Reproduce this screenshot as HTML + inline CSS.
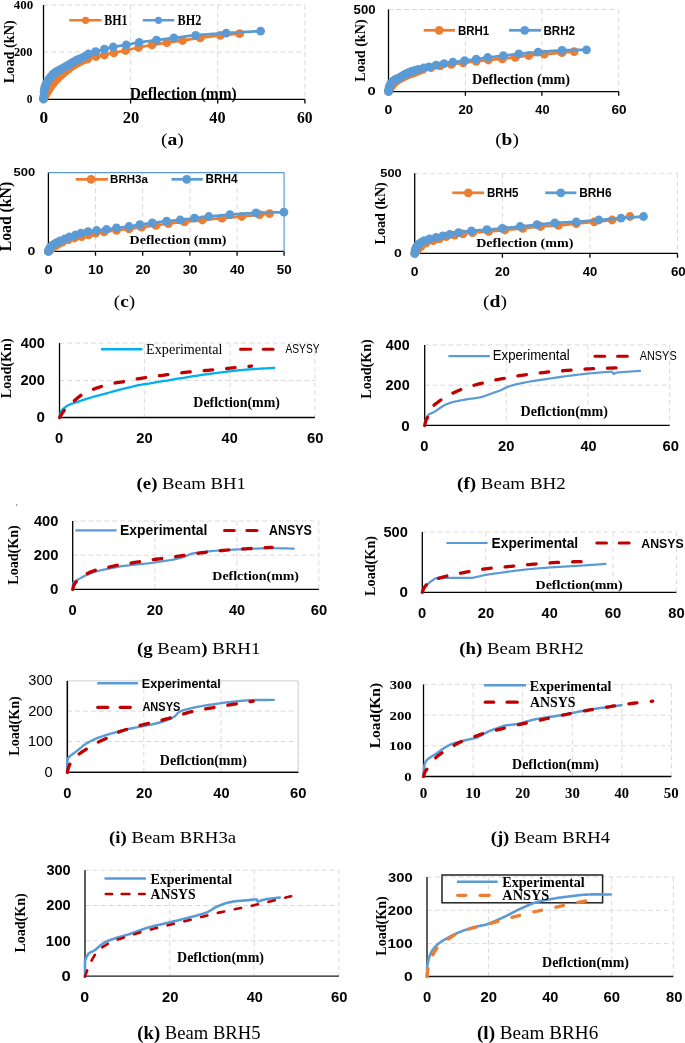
<!DOCTYPE html>
<html><head><meta charset="utf-8"><style>
html,body{margin:0;padding:0;background:#fff;width:685px;height:1043px;overflow:hidden}
svg{display:block;will-change:transform}
text{font-kerning:none}
</style></head><body>
<svg width="685" height="1043" viewBox="0 0 685 1043">
<rect width="685" height="1043" fill="#fff"/>
<line x1="130.60" y1="5.00" x2="130.60" y2="99.30" stroke="#d9d9d9" stroke-width="1" stroke-dasharray="4.7,3.2" stroke-linecap="butt"/>
<line x1="217.70" y1="5.00" x2="217.70" y2="99.30" stroke="#d9d9d9" stroke-width="1" stroke-dasharray="4.7,3.2" stroke-linecap="butt"/>
<line x1="304.90" y1="5.00" x2="304.90" y2="99.30" stroke="#d9d9d9" stroke-width="1" stroke-dasharray="4.7,3.2" stroke-linecap="butt"/>
<line x1="43.50" y1="52.00" x2="304.90" y2="52.00" stroke="#d9d9d9" stroke-width="1" stroke-dasharray="4.7,3.2" stroke-linecap="butt"/>
<line x1="43.50" y1="5.00" x2="304.90" y2="5.00" stroke="#d9d9d9" stroke-width="1" stroke-dasharray="4.7,3.2" stroke-linecap="butt"/>
<line x1="43.50" y1="5.00" x2="43.50" y2="99.30" stroke="#000" stroke-width="1.3" stroke-linecap="butt"/>
<line x1="42.90" y1="99.30" x2="304.90" y2="99.30" stroke="#000" stroke-width="1.3" stroke-linecap="butt"/>
<line x1="130.60" y1="99.30" x2="130.60" y2="103.60" stroke="#000" stroke-width="1.3" stroke-linecap="butt"/>
<line x1="217.70" y1="99.30" x2="217.70" y2="103.60" stroke="#000" stroke-width="1.3" stroke-linecap="butt"/>
<line x1="304.90" y1="99.30" x2="304.90" y2="103.60" stroke="#000" stroke-width="1.3" stroke-linecap="butt"/>
<polyline points="43.50,99.00 43.60,98.81 43.71,98.56 43.85,98.28 44.00,97.96 44.17,97.62 44.34,97.25 44.53,96.87 44.72,96.48 44.92,96.09 45.11,95.71 45.31,95.35 45.50,95.00 45.69,94.67 45.89,94.33 46.09,94.00 46.30,93.67 46.51,93.33 46.72,93.00 46.93,92.67 47.15,92.33 47.36,92.00 47.58,91.67 47.79,91.33 48.00,91.00 48.21,90.67 48.41,90.33 48.61,90.00 48.81,89.67 49.02,89.33 49.22,89.00 49.42,88.67 49.63,88.33 49.84,88.00 50.05,87.67 50.27,87.33 50.50,87.00 50.73,86.67 50.96,86.34 51.19,86.01 51.43,85.69 51.66,85.36 51.91,85.03 52.15,84.70 52.41,84.37 52.67,84.04 52.94,83.70 53.21,83.35 53.50,83.00 53.80,82.64 54.10,82.28 54.42,81.90 54.74,81.53 55.07,81.15 55.41,80.76 55.75,80.38 56.09,80.00 56.44,79.62 56.79,79.24 57.15,78.87 57.50,78.50 57.86,78.14 58.22,77.78 58.59,77.42 58.97,77.06 59.35,76.70 59.73,76.35 60.11,76.00 60.50,75.65 60.88,75.31 61.26,74.97 61.63,74.63 62.00,74.30 62.35,73.98 62.68,73.68 62.99,73.40 63.29,73.12 63.58,72.84 63.89,72.57 64.21,72.29 64.55,71.99 64.92,71.68 65.33,71.35 65.79,70.99 66.30,70.60 66.87,70.17 67.49,69.70 68.16,69.20 68.87,68.68 69.61,68.14 70.37,67.59 71.15,67.04 71.93,66.50 72.71,65.96 73.49,65.45 74.26,64.96 75.00,64.50 75.75,64.06 76.52,63.63 77.31,63.20 78.11,62.79 78.91,62.38 79.70,61.99 80.48,61.61 81.23,61.26 81.94,60.93 82.62,60.62 83.24,60.35 83.80,60.10 84.28,59.90 84.68,59.74 85.02,59.63 85.30,59.54 85.55,59.48 85.78,59.43 86.01,59.39 86.26,59.35 86.53,59.30 86.85,59.23 87.24,59.13 87.70,59.00 88.24,58.84 88.83,58.65 89.46,58.45 90.14,58.23 90.84,58.01 91.57,57.77 92.31,57.54 93.06,57.31 93.81,57.09 94.56,56.87 95.29,56.68 96.00,56.50 96.69,56.34 97.38,56.20 98.07,56.07 98.75,55.95 99.44,55.84 100.12,55.73 100.82,55.62 101.51,55.51 102.22,55.40 102.94,55.28 103.66,55.15 104.40,55.00 105.15,54.84 105.89,54.67 106.65,54.50 107.40,54.32 108.17,54.14 108.94,53.95 109.73,53.76 110.53,53.57 111.34,53.37 112.18,53.18 113.03,52.99 113.90,52.80 114.79,52.61 115.71,52.43 116.64,52.25 117.59,52.07 118.56,51.88 119.54,51.70 120.53,51.51 121.53,51.32 122.54,51.13 123.56,50.92 124.58,50.72 125.60,50.50 126.63,50.27 127.67,50.03 128.73,49.79 129.79,49.53 130.86,49.27 131.94,49.01 133.02,48.75 134.11,48.49 135.20,48.23 136.30,47.98 137.40,47.73 138.50,47.50 139.60,47.27 140.70,47.05 141.80,46.84 142.91,46.62 144.02,46.41 145.13,46.21 146.25,46.00 147.38,45.80 148.52,45.60 149.67,45.40 150.83,45.20 152.00,45.00 153.18,44.80 154.38,44.60 155.59,44.41 156.80,44.21 158.03,44.02 159.26,43.83 160.50,43.64 161.75,43.45 163.01,43.26 164.27,43.08 165.53,42.89 166.80,42.70 168.07,42.51 169.34,42.33 170.61,42.15 171.89,41.97 173.18,41.80 174.47,41.62 175.77,41.44 177.09,41.26 178.41,41.08 179.76,40.89 181.12,40.70 182.50,40.50 183.90,40.30 185.31,40.09 186.73,39.88 188.16,39.66 189.61,39.45 191.07,39.22 192.55,39.00 194.04,38.78 195.55,38.56 197.08,38.34 198.63,38.12 200.20,37.90 201.80,37.68 203.43,37.46 205.10,37.23 206.78,37.00 208.49,36.77 210.20,36.54 211.92,36.31 213.64,36.09 215.35,35.88 217.06,35.68 218.74,35.48 220.40,35.30 222.10,35.13 223.89,34.96 225.74,34.79 227.61,34.63 229.48,34.48 231.31,34.34 233.07,34.20 234.73,34.08 236.25,33.96 237.61,33.86 238.77,33.77 239.70,33.70" fill="none" stroke="#ED7D31" stroke-width="2.75" stroke-linecap="round" stroke-linejoin="round"/>
<circle cx="43.50" cy="99.00" r="4.4" fill="#ED7D31"/>
<circle cx="43.67" cy="98.65" r="4.4" fill="#ED7D31"/>
<circle cx="44.09" cy="97.78" r="4.4" fill="#ED7D31"/>
<circle cx="44.72" cy="96.48" r="4.4" fill="#ED7D31"/>
<circle cx="45.55" cy="94.90" r="4.4" fill="#ED7D31"/>
<circle cx="46.57" cy="93.23" r="4.4" fill="#ED7D31"/>
<circle cx="47.76" cy="91.38" r="4.4" fill="#ED7D31"/>
<circle cx="49.13" cy="89.15" r="4.4" fill="#ED7D31"/>
<circle cx="50.66" cy="86.78" r="4.4" fill="#ED7D31"/>
<circle cx="52.35" cy="84.45" r="4.4" fill="#ED7D31"/>
<circle cx="54.19" cy="82.17" r="4.4" fill="#ED7D31"/>
<circle cx="56.19" cy="79.89" r="4.4" fill="#ED7D31"/>
<circle cx="58.35" cy="77.66" r="4.4" fill="#ED7D31"/>
<circle cx="60.65" cy="75.52" r="4.4" fill="#ED7D31"/>
<circle cx="63.09" cy="73.30" r="4.4" fill="#ED7D31"/>
<circle cx="65.68" cy="71.07" r="4.4" fill="#ED7D31"/>
<circle cx="68.42" cy="69.02" r="4.4" fill="#ED7D31"/>
<circle cx="71.29" cy="66.94" r="4.4" fill="#ED7D31"/>
<circle cx="74.30" cy="64.93" r="4.4" fill="#ED7D31"/>
<circle cx="77.45" cy="63.13" r="4.4" fill="#ED7D31"/>
<circle cx="80.73" cy="61.49" r="4.4" fill="#ED7D31"/>
<circle cx="84.15" cy="59.95" r="4.4" fill="#ED7D31"/>
<circle cx="87.70" cy="59.00" r="4.4" fill="#ED7D31"/>
<circle cx="96.00" cy="56.50" r="4.4" fill="#ED7D31"/>
<circle cx="104.40" cy="55.00" r="4.4" fill="#ED7D31"/>
<circle cx="113.90" cy="52.80" r="4.4" fill="#ED7D31"/>
<circle cx="125.60" cy="50.50" r="4.4" fill="#ED7D31"/>
<circle cx="138.50" cy="47.50" r="4.4" fill="#ED7D31"/>
<circle cx="152.00" cy="45.00" r="4.4" fill="#ED7D31"/>
<circle cx="166.80" cy="42.70" r="4.4" fill="#ED7D31"/>
<circle cx="182.50" cy="40.50" r="4.4" fill="#ED7D31"/>
<circle cx="200.20" cy="37.90" r="4.4" fill="#ED7D31"/>
<circle cx="220.40" cy="35.30" r="4.4" fill="#ED7D31"/>
<circle cx="239.70" cy="33.70" r="4.4" fill="#ED7D31"/>
<polyline points="43.50,99.00 43.54,98.50 43.58,97.87 43.63,97.11 43.69,96.26 43.75,95.34 43.82,94.38 43.89,93.39 43.98,92.41 44.07,91.45 44.17,90.55 44.28,89.73 44.40,89.00 44.53,88.35 44.68,87.74 44.84,87.16 45.00,86.61 45.18,86.09 45.36,85.60 45.55,85.13 45.74,84.67 45.93,84.24 46.12,83.81 46.31,83.40 46.50,83.00 46.68,82.62 46.85,82.28 47.01,81.97 47.18,81.68 47.34,81.41 47.51,81.15 47.69,80.89 47.88,80.63 48.08,80.36 48.30,80.06 48.54,79.75 48.80,79.40 49.09,79.02 49.40,78.60 49.73,78.16 50.08,77.71 50.44,77.24 50.82,76.77 51.20,76.30 51.59,75.84 51.97,75.39 52.35,74.96 52.73,74.56 53.10,74.20 53.45,73.87 53.78,73.58 54.09,73.32 54.40,73.07 54.70,72.85 55.02,72.62 55.35,72.41 55.70,72.18 56.09,71.95 56.51,71.69 56.98,71.41 57.50,71.10 58.08,70.76 58.71,70.40 59.39,70.03 60.11,69.64 60.86,69.25 61.63,68.84 62.42,68.42 63.21,68.00 64.00,67.57 64.79,67.15 65.56,66.72 66.30,66.30 67.03,65.87 67.75,65.43 68.48,64.98 69.20,64.52 69.93,64.06 70.65,63.59 71.37,63.13 72.10,62.68 72.82,62.24 73.55,61.81 74.27,61.39 75.00,61.00 75.74,60.62 76.51,60.26 77.29,59.91 78.07,59.57 78.86,59.25 79.64,58.92 80.41,58.61 81.16,58.30 81.88,58.00 82.56,57.70 83.21,57.40 83.80,57.10 84.33,56.80 84.81,56.50 85.23,56.21 85.61,55.91 85.97,55.63 86.31,55.34 86.65,55.07 86.99,54.80 87.34,54.53 87.72,54.28 88.14,54.03 88.60,53.80 89.10,53.58 89.62,53.37 90.15,53.18 90.70,52.99 91.27,52.82 91.85,52.64 92.44,52.48 93.05,52.31 93.67,52.14 94.30,51.97 94.95,51.79 95.60,51.60 96.27,51.41 96.96,51.21 97.67,51.01 98.40,50.81 99.14,50.60 99.89,50.40 100.64,50.20 101.40,49.99 102.16,49.79 102.91,49.59 103.66,49.39 104.40,49.20 105.12,49.01 105.82,48.82 106.50,48.64 107.17,48.45 107.85,48.27 108.53,48.09 109.23,47.91 109.95,47.73 110.70,47.55 111.48,47.36 112.32,47.18 113.20,47.00 114.14,46.82 115.14,46.64 116.18,46.45 117.26,46.27 118.36,46.09 119.49,45.91 120.64,45.73 121.79,45.55 122.94,45.36 124.08,45.18 125.20,44.99 126.30,44.80 127.37,44.61 128.41,44.41 129.44,44.21 130.45,44.01 131.47,43.81 132.49,43.61 133.52,43.40 134.58,43.20 135.67,43.00 136.80,42.80 137.97,42.60 139.20,42.40 140.49,42.20 141.83,42.01 143.21,41.82 144.64,41.62 146.09,41.43 147.57,41.24 149.06,41.05 150.56,40.86 152.06,40.67 153.56,40.48 155.04,40.29 156.50,40.10 157.93,39.91 159.34,39.73 160.74,39.55 162.13,39.37 163.52,39.20 164.92,39.02 166.33,38.84 167.77,38.66 169.24,38.48 170.74,38.29 172.30,38.10 173.90,37.90 175.53,37.70 177.18,37.49 178.84,37.27 180.52,37.05 182.23,36.82 183.98,36.60 185.78,36.38 187.63,36.15 189.54,35.93 191.51,35.71 193.56,35.50 195.70,35.30 197.92,35.10 200.23,34.91 202.62,34.72 205.08,34.53 207.59,34.34 210.16,34.16 212.77,33.98 215.42,33.80 218.10,33.63 220.79,33.45 223.49,33.28 226.20,33.10 229.04,32.92 232.11,32.73 235.33,32.54 238.65,32.34 242.00,32.15 245.31,31.96 248.51,31.78 251.54,31.61 254.33,31.45 256.81,31.32 258.93,31.20 260.60,31.10" fill="none" stroke="#5B9BD5" stroke-width="2.75" stroke-linecap="round" stroke-linejoin="round"/>
<circle cx="43.50" cy="99.00" r="4.4" fill="#5B9BD5"/>
<circle cx="43.65" cy="96.89" r="4.4" fill="#5B9BD5"/>
<circle cx="44.01" cy="92.02" r="4.4" fill="#5B9BD5"/>
<circle cx="44.57" cy="88.20" r="4.4" fill="#5B9BD5"/>
<circle cx="45.29" cy="85.79" r="4.4" fill="#5B9BD5"/>
<circle cx="46.18" cy="83.70" r="4.4" fill="#5B9BD5"/>
<circle cx="47.22" cy="81.61" r="4.4" fill="#5B9BD5"/>
<circle cx="48.41" cy="79.92" r="4.4" fill="#5B9BD5"/>
<circle cx="49.74" cy="78.15" r="4.4" fill="#5B9BD5"/>
<circle cx="51.22" cy="76.28" r="4.4" fill="#5B9BD5"/>
<circle cx="52.83" cy="74.47" r="4.4" fill="#5B9BD5"/>
<circle cx="54.57" cy="72.94" r="4.4" fill="#5B9BD5"/>
<circle cx="56.45" cy="71.73" r="4.4" fill="#5B9BD5"/>
<circle cx="58.46" cy="70.55" r="4.4" fill="#5B9BD5"/>
<circle cx="60.59" cy="69.39" r="4.4" fill="#5B9BD5"/>
<circle cx="62.85" cy="68.19" r="4.4" fill="#5B9BD5"/>
<circle cx="65.24" cy="66.90" r="4.4" fill="#5B9BD5"/>
<circle cx="67.74" cy="65.44" r="4.4" fill="#5B9BD5"/>
<circle cx="70.37" cy="63.77" r="4.4" fill="#5B9BD5"/>
<circle cx="73.12" cy="62.06" r="4.4" fill="#5B9BD5"/>
<circle cx="75.98" cy="60.51" r="4.4" fill="#5B9BD5"/>
<circle cx="78.96" cy="59.20" r="4.4" fill="#5B9BD5"/>
<circle cx="82.06" cy="57.92" r="4.4" fill="#5B9BD5"/>
<circle cx="85.27" cy="56.17" r="4.4" fill="#5B9BD5"/>
<circle cx="88.60" cy="53.80" r="4.4" fill="#5B9BD5"/>
<circle cx="95.60" cy="51.60" r="4.4" fill="#5B9BD5"/>
<circle cx="104.40" cy="49.20" r="4.4" fill="#5B9BD5"/>
<circle cx="113.20" cy="47.00" r="4.4" fill="#5B9BD5"/>
<circle cx="126.30" cy="44.80" r="4.4" fill="#5B9BD5"/>
<circle cx="139.20" cy="42.40" r="4.4" fill="#5B9BD5"/>
<circle cx="156.50" cy="40.10" r="4.4" fill="#5B9BD5"/>
<circle cx="173.90" cy="37.90" r="4.4" fill="#5B9BD5"/>
<circle cx="195.70" cy="35.30" r="4.4" fill="#5B9BD5"/>
<circle cx="226.20" cy="33.10" r="4.4" fill="#5B9BD5"/>
<circle cx="260.60" cy="31.10" r="4.4" fill="#5B9BD5"/>
<line x1="69.20" y1="20.30" x2="101.60" y2="20.30" stroke="#ED7D31" stroke-width="2.5" stroke-linecap="butt"/>
<circle cx="85.60" cy="20.30" r="3.6" fill="#ED7D31"/>
<line x1="142.80" y1="20.30" x2="174.30" y2="20.30" stroke="#5B9BD5" stroke-width="2.5" stroke-linecap="butt"/>
<circle cx="158.50" cy="20.30" r="3.6" fill="#5B9BD5"/>
<text x="104.20" y="25.06" font-family="Liberation Serif" font-size="13.87" font-weight="bold" fill="#000" textLength="23.22" lengthAdjust="spacingAndGlyphs">BH1</text>
<text x="177.60" y="25.06" font-family="Liberation Serif" font-size="13.83" font-weight="bold" fill="#000" textLength="23.73" lengthAdjust="spacingAndGlyphs">BH2</text>
<text x="13.82" y="8.68" font-family="Liberation Serif" font-size="12.74" font-weight="bold" fill="#000" textLength="19.47" lengthAdjust="spacingAndGlyphs">400</text>
<text x="13.88" y="56.38" font-family="Liberation Serif" font-size="12.74" font-weight="bold" fill="#000" textLength="18.70" lengthAdjust="spacingAndGlyphs">200</text>
<text x="26.87" y="102.88" font-family="Liberation Serif" font-size="11.86" font-weight="bold" fill="#000" textLength="5.66" lengthAdjust="spacingAndGlyphs">0</text>
<text x="39.54" y="122.75" font-family="Liberation Serif" font-size="15.71" font-weight="bold" fill="#000" textLength="8.61" lengthAdjust="spacingAndGlyphs">0</text>
<text x="122.71" y="122.75" font-family="Liberation Serif" font-size="15.71" font-weight="bold" fill="#000" textLength="16.52" lengthAdjust="spacingAndGlyphs">20</text>
<text x="209.38" y="122.75" font-family="Liberation Serif" font-size="15.71" font-weight="bold" fill="#000" textLength="16.24" lengthAdjust="spacingAndGlyphs">40</text>
<text x="296.97" y="122.75" font-family="Liberation Serif" font-size="15.71" font-weight="bold" fill="#000" textLength="15.63" lengthAdjust="spacingAndGlyphs">60</text>
<text transform="translate(13.87,83.14) rotate(-90)" x="0" y="0" font-family="Liberation Serif" font-size="13.79" font-weight="bold" fill="#000" textLength="62.77" lengthAdjust="spacingAndGlyphs">Load (kN)</text>
<text x="129.63" y="98.80" font-family="Liberation Serif" font-size="16.19" font-weight="bold" fill="#000" textLength="107.15" lengthAdjust="spacingAndGlyphs">Deflection (mm)</text>
<text x="161.04" y="145.14" font-family="Liberation Serif" font-size="17.65" font-weight="normal" fill="#000" textLength="22.82" lengthAdjust="spacingAndGlyphs"><tspan font-weight="normal">(</tspan><tspan font-weight="bold">a</tspan><tspan font-weight="normal">)</tspan></text>
<line x1="465.40" y1="9.50" x2="465.40" y2="91.60" stroke="#d9d9d9" stroke-width="1" stroke-dasharray="4.7,3.2" stroke-linecap="butt"/>
<line x1="541.90" y1="9.50" x2="541.90" y2="91.60" stroke="#d9d9d9" stroke-width="1" stroke-dasharray="4.7,3.2" stroke-linecap="butt"/>
<line x1="618.70" y1="9.50" x2="618.70" y2="91.60" stroke="#d9d9d9" stroke-width="1" stroke-dasharray="4.7,3.2" stroke-linecap="butt"/>
<line x1="388.50" y1="9.50" x2="618.70" y2="9.50" stroke="#d9d9d9" stroke-width="1" stroke-dasharray="4.7,3.2" stroke-linecap="butt"/>
<line x1="388.50" y1="9.50" x2="388.50" y2="91.60" stroke="#000" stroke-width="1.3" stroke-linecap="butt"/>
<line x1="387.90" y1="91.60" x2="618.70" y2="91.60" stroke="#000" stroke-width="1.3" stroke-linecap="butt"/>
<line x1="465.40" y1="91.60" x2="465.40" y2="95.80" stroke="#000" stroke-width="1.3" stroke-linecap="butt"/>
<line x1="541.90" y1="91.60" x2="541.90" y2="95.80" stroke="#000" stroke-width="1.3" stroke-linecap="butt"/>
<line x1="618.70" y1="91.60" x2="618.70" y2="95.80" stroke="#000" stroke-width="1.3" stroke-linecap="butt"/>
<polyline points="388.50,91.50 388.57,91.33 388.65,91.12 388.75,90.86 388.85,90.58 388.97,90.27 389.09,89.95 389.23,89.61 389.37,89.27 389.52,88.94 389.67,88.61 389.84,88.29 390.00,88.00 390.17,87.72 390.36,87.44 390.55,87.17 390.76,86.90 390.97,86.63 391.19,86.36 391.41,86.09 391.63,85.83 391.85,85.56 392.07,85.31 392.29,85.05 392.50,84.80 392.70,84.55 392.89,84.31 393.07,84.08 393.24,83.85 393.42,83.63 393.59,83.40 393.78,83.17 393.98,82.95 394.20,82.72 394.44,82.49 394.70,82.25 395.00,82.00 395.32,81.75 395.67,81.49 396.04,81.23 396.43,80.96 396.84,80.70 397.26,80.43 397.70,80.15 398.14,79.88 398.60,79.61 399.06,79.34 399.53,79.07 400.00,78.80 400.47,78.53 400.95,78.27 401.43,78.00 401.91,77.74 402.41,77.47 402.92,77.21 403.44,76.94 403.97,76.67 404.53,76.41 405.10,76.14 405.69,75.87 406.30,75.60 406.94,75.33 407.62,75.05 408.32,74.77 409.05,74.50 409.79,74.22 410.54,73.94 411.30,73.66 412.06,73.38 412.82,73.11 413.56,72.83 414.29,72.56 415.00,72.30 415.69,72.04 416.37,71.77 417.05,71.50 417.72,71.23 418.38,70.96 419.04,70.70 419.70,70.44 420.36,70.19 421.02,69.95 421.67,69.72 422.34,69.50 423.00,69.30 423.66,69.11 424.32,68.94 424.97,68.79 425.62,68.64 426.27,68.50 426.93,68.37 427.58,68.25 428.24,68.13 428.92,68.00 429.60,67.87 430.29,67.74 431.00,67.60 431.72,67.45 432.44,67.30 433.17,67.15 433.90,66.99 434.65,66.84 435.40,66.68 436.16,66.53 436.94,66.37 437.73,66.22 438.54,66.08 439.36,65.94 440.20,65.80 441.06,65.67 441.95,65.55 442.85,65.43 443.77,65.31 444.70,65.20 445.64,65.09 446.60,64.98 447.56,64.87 448.52,64.75 449.48,64.64 450.44,64.52 451.40,64.40 452.35,64.27 453.30,64.14 454.26,64.01 455.21,63.88 456.17,63.74 457.13,63.61 458.10,63.47 459.08,63.33 460.06,63.20 461.06,63.06 462.07,62.93 463.10,62.80 464.15,62.67 465.21,62.54 466.30,62.41 467.40,62.29 468.50,62.16 469.62,62.03 470.73,61.91 471.85,61.78 472.96,61.66 474.05,61.54 475.14,61.42 476.20,61.30 477.24,61.18 478.26,61.07 479.27,60.96 480.27,60.85 481.26,60.74 482.24,60.63 483.23,60.52 484.23,60.42 485.24,60.31 486.27,60.21 487.32,60.10 488.40,60.00 489.51,59.90 490.64,59.80 491.80,59.70 492.97,59.60 494.16,59.51 495.36,59.41 496.55,59.32 497.75,59.22 498.94,59.12 500.11,59.02 501.27,58.91 502.40,58.80 503.51,58.69 504.61,58.57 505.69,58.45 506.76,58.33 507.83,58.21 508.89,58.09 509.95,57.96 511.00,57.83 512.07,57.70 513.13,57.57 514.21,57.44 515.30,57.30 516.39,57.16 517.48,57.01 518.56,56.86 519.64,56.71 520.73,56.55 521.82,56.39 522.93,56.24 524.04,56.08 525.18,55.93 526.33,55.78 527.50,55.64 528.70,55.50 529.92,55.37 531.16,55.24 532.42,55.12 533.69,55.00 534.98,54.89 536.29,54.78 537.61,54.66 538.94,54.55 540.29,54.44 541.65,54.33 543.02,54.22 544.40,54.10 545.82,53.98 547.28,53.86 548.79,53.75 550.31,53.63 551.86,53.51 553.40,53.39 554.93,53.27 556.44,53.15 557.91,53.04 559.34,52.92 560.71,52.81 562.00,52.70 563.26,52.59 564.52,52.47 565.78,52.36 567.01,52.24 568.20,52.13 569.35,52.01 570.44,51.90 571.45,51.80 572.37,51.71 573.20,51.63 573.91,51.56 574.50,51.50" fill="none" stroke="#ED7D31" stroke-width="2.75" stroke-linecap="round" stroke-linejoin="round"/>
<circle cx="388.50" cy="91.50" r="4.4" fill="#ED7D31"/>
<circle cx="388.66" cy="91.10" r="4.4" fill="#ED7D31"/>
<circle cx="389.05" cy="90.07" r="4.4" fill="#ED7D31"/>
<circle cx="389.63" cy="88.69" r="4.4" fill="#ED7D31"/>
<circle cx="390.40" cy="87.38" r="4.4" fill="#ED7D31"/>
<circle cx="391.35" cy="86.17" r="4.4" fill="#ED7D31"/>
<circle cx="392.45" cy="84.86" r="4.4" fill="#ED7D31"/>
<circle cx="393.71" cy="83.26" r="4.4" fill="#ED7D31"/>
<circle cx="395.13" cy="81.90" r="4.4" fill="#ED7D31"/>
<circle cx="396.70" cy="80.79" r="4.4" fill="#ED7D31"/>
<circle cx="398.41" cy="79.72" r="4.4" fill="#ED7D31"/>
<circle cx="400.26" cy="78.65" r="4.4" fill="#ED7D31"/>
<circle cx="402.26" cy="77.55" r="4.4" fill="#ED7D31"/>
<circle cx="404.39" cy="76.47" r="4.4" fill="#ED7D31"/>
<circle cx="406.65" cy="75.45" r="4.4" fill="#ED7D31"/>
<circle cx="409.06" cy="74.49" r="4.4" fill="#ED7D31"/>
<circle cx="411.59" cy="73.55" r="4.4" fill="#ED7D31"/>
<circle cx="414.25" cy="72.58" r="4.4" fill="#ED7D31"/>
<circle cx="417.04" cy="71.50" r="4.4" fill="#ED7D31"/>
<circle cx="419.96" cy="70.35" r="4.4" fill="#ED7D31"/>
<circle cx="423.00" cy="69.30" r="4.4" fill="#ED7D31"/>
<circle cx="431.00" cy="67.60" r="4.4" fill="#ED7D31"/>
<circle cx="440.20" cy="65.80" r="4.4" fill="#ED7D31"/>
<circle cx="451.40" cy="64.40" r="4.4" fill="#ED7D31"/>
<circle cx="463.10" cy="62.80" r="4.4" fill="#ED7D31"/>
<circle cx="476.20" cy="61.30" r="4.4" fill="#ED7D31"/>
<circle cx="488.40" cy="60.00" r="4.4" fill="#ED7D31"/>
<circle cx="502.40" cy="58.80" r="4.4" fill="#ED7D31"/>
<circle cx="515.30" cy="57.30" r="4.4" fill="#ED7D31"/>
<circle cx="528.70" cy="55.50" r="4.4" fill="#ED7D31"/>
<circle cx="544.40" cy="54.10" r="4.4" fill="#ED7D31"/>
<circle cx="562.00" cy="52.70" r="4.4" fill="#ED7D31"/>
<circle cx="574.20" cy="51.53" r="4.4" fill="#ED7D31"/>
<polyline points="388.50,91.50 388.53,91.29 388.57,91.02 388.61,90.70 388.66,90.34 388.71,89.96 388.76,89.55 388.82,89.13 388.89,88.71 388.96,88.30 389.03,87.90 389.11,87.53 389.20,87.20 389.29,86.89 389.38,86.59 389.48,86.31 389.59,86.03 389.70,85.75 389.81,85.49 389.93,85.23 390.06,84.97 390.18,84.73 390.32,84.48 390.46,84.24 390.60,84.00 390.75,83.77 390.90,83.54 391.06,83.31 391.22,83.10 391.39,82.88 391.56,82.67 391.74,82.47 391.92,82.27 392.11,82.07 392.30,81.88 392.50,81.69 392.70,81.50 392.90,81.32 393.11,81.14 393.32,80.96 393.53,80.79 393.75,80.63 393.97,80.46 394.21,80.30 394.44,80.14 394.69,79.98 394.95,79.82 395.22,79.66 395.50,79.50 395.79,79.35 396.07,79.20 396.36,79.07 396.65,78.94 396.95,78.82 397.27,78.69 397.60,78.55 397.95,78.40 398.32,78.23 398.72,78.05 399.14,77.84 399.60,77.60 400.10,77.33 400.63,77.02 401.20,76.68 401.80,76.32 402.41,75.94 403.05,75.56 403.70,75.17 404.35,74.78 405.00,74.41 405.65,74.05 406.28,73.71 406.90,73.40 407.52,73.11 408.15,72.83 408.79,72.56 409.44,72.30 410.09,72.05 410.73,71.81 411.36,71.58 411.98,71.36 412.58,71.15 413.15,70.96 413.69,70.77 414.20,70.60 414.67,70.44 415.09,70.31 415.49,70.19 415.86,70.09 416.20,70.00 416.54,69.91 416.86,69.83 417.19,69.76 417.52,69.68 417.86,69.59 418.22,69.50 418.60,69.40 419.00,69.29 419.41,69.18 419.83,69.06 420.25,68.94 420.68,68.82 421.11,68.70 421.54,68.58 421.97,68.46 422.41,68.34 422.84,68.22 423.27,68.11 423.70,68.00 424.12,67.89 424.52,67.79 424.92,67.70 425.32,67.60 425.71,67.51 426.11,67.42 426.52,67.33 426.94,67.23 427.37,67.13 427.82,67.03 428.30,66.92 428.80,66.80 429.33,66.68 429.88,66.54 430.45,66.41 431.04,66.26 431.65,66.12 432.27,65.97 432.90,65.82 433.53,65.67 434.17,65.52 434.82,65.38 435.46,65.24 436.10,65.10 436.74,64.97 437.38,64.84 438.03,64.71 438.69,64.58 439.34,64.46 440.01,64.33 440.67,64.21 441.35,64.09 442.03,63.96 442.71,63.84 443.40,63.72 444.10,63.60 444.80,63.48 445.49,63.36 446.18,63.25 446.87,63.13 447.56,63.02 448.27,62.91 448.99,62.79 449.72,62.68 450.48,62.56 451.26,62.44 452.06,62.32 452.90,62.20 453.77,62.07 454.68,61.94 455.62,61.81 456.59,61.67 457.57,61.54 458.57,61.40 459.59,61.26 460.60,61.13 461.61,60.99 462.62,60.86 463.62,60.73 464.60,60.60 465.57,60.48 466.54,60.36 467.51,60.24 468.48,60.13 469.45,60.02 470.41,59.91 471.38,59.79 472.34,59.68 473.31,59.57 474.27,59.45 475.24,59.33 476.20,59.20 477.15,59.07 478.07,58.94 478.98,58.80 479.89,58.66 480.79,58.52 481.69,58.38 482.62,58.23 483.56,58.09 484.53,57.94 485.54,57.79 486.59,57.65 487.70,57.50 488.86,57.35 490.08,57.21 491.34,57.06 492.63,56.91 493.96,56.76 495.31,56.61 496.67,56.46 498.03,56.30 499.40,56.15 500.75,56.00 502.09,55.85 503.40,55.70 504.68,55.55 505.94,55.40 507.18,55.25 508.41,55.10 509.64,54.95 510.87,54.80 512.12,54.65 513.39,54.50 514.68,54.35 516.01,54.20 517.38,54.05 518.80,53.90 520.26,53.75 521.74,53.60 523.24,53.45 524.77,53.30 526.33,53.15 527.92,53.00 529.53,52.85 531.18,52.70 532.86,52.55 534.57,52.40 536.32,52.25 538.10,52.10 539.93,51.95 541.81,51.78 543.74,51.62 545.70,51.45 547.70,51.28 549.73,51.12 551.77,50.96 553.82,50.80 555.88,50.66 557.93,50.52 559.97,50.40 562.00,50.30 564.10,50.21 566.33,50.14 568.66,50.07 571.03,50.02 573.41,49.97 575.74,49.94 578.00,49.91 580.13,49.88 582.08,49.86 583.83,49.84 585.31,49.82 586.50,49.80" fill="none" stroke="#5B9BD5" stroke-width="2.75" stroke-linecap="round" stroke-linejoin="round"/>
<circle cx="388.50" cy="91.50" r="4.4" fill="#5B9BD5"/>
<circle cx="388.64" cy="90.49" r="4.4" fill="#5B9BD5"/>
<circle cx="388.98" cy="88.21" r="4.4" fill="#5B9BD5"/>
<circle cx="389.49" cy="86.29" r="4.4" fill="#5B9BD5"/>
<circle cx="390.16" cy="84.77" r="4.4" fill="#5B9BD5"/>
<circle cx="390.98" cy="83.42" r="4.4" fill="#5B9BD5"/>
<circle cx="391.95" cy="82.24" r="4.4" fill="#5B9BD5"/>
<circle cx="393.05" cy="81.19" r="4.4" fill="#5B9BD5"/>
<circle cx="394.28" cy="80.25" r="4.4" fill="#5B9BD5"/>
<circle cx="395.65" cy="79.42" r="4.4" fill="#5B9BD5"/>
<circle cx="397.14" cy="78.74" r="4.4" fill="#5B9BD5"/>
<circle cx="398.76" cy="78.03" r="4.4" fill="#5B9BD5"/>
<circle cx="400.50" cy="77.09" r="4.4" fill="#5B9BD5"/>
<circle cx="402.36" cy="75.97" r="4.4" fill="#5B9BD5"/>
<circle cx="404.34" cy="74.79" r="4.4" fill="#5B9BD5"/>
<circle cx="406.43" cy="73.63" r="4.4" fill="#5B9BD5"/>
<circle cx="408.64" cy="72.63" r="4.4" fill="#5B9BD5"/>
<circle cx="410.97" cy="71.73" r="4.4" fill="#5B9BD5"/>
<circle cx="413.40" cy="70.87" r="4.4" fill="#5B9BD5"/>
<circle cx="415.95" cy="70.07" r="4.4" fill="#5B9BD5"/>
<circle cx="418.60" cy="69.40" r="4.4" fill="#5B9BD5"/>
<circle cx="423.70" cy="68.00" r="4.4" fill="#5B9BD5"/>
<circle cx="428.80" cy="66.80" r="4.4" fill="#5B9BD5"/>
<circle cx="436.10" cy="65.10" r="4.4" fill="#5B9BD5"/>
<circle cx="444.10" cy="63.60" r="4.4" fill="#5B9BD5"/>
<circle cx="452.90" cy="62.20" r="4.4" fill="#5B9BD5"/>
<circle cx="464.60" cy="60.60" r="4.4" fill="#5B9BD5"/>
<circle cx="476.20" cy="59.20" r="4.4" fill="#5B9BD5"/>
<circle cx="487.70" cy="57.50" r="4.4" fill="#5B9BD5"/>
<circle cx="503.40" cy="55.70" r="4.4" fill="#5B9BD5"/>
<circle cx="518.80" cy="53.90" r="4.4" fill="#5B9BD5"/>
<circle cx="538.10" cy="52.10" r="4.4" fill="#5B9BD5"/>
<circle cx="562.00" cy="50.30" r="4.4" fill="#5B9BD5"/>
<circle cx="586.50" cy="49.80" r="4.4" fill="#5B9BD5"/>
<line x1="423.70" y1="30.30" x2="455.00" y2="30.30" stroke="#ED7D31" stroke-width="2.75" stroke-linecap="butt"/>
<circle cx="439.20" cy="30.30" r="4.4" fill="#ED7D31"/>
<line x1="509.00" y1="30.30" x2="541.00" y2="30.30" stroke="#5B9BD5" stroke-width="2.75" stroke-linecap="butt"/>
<circle cx="524.70" cy="30.30" r="4.4" fill="#5B9BD5"/>
<text x="458.03" y="34.60" font-family="Liberation Sans" font-size="13.23" font-weight="bold" fill="#000" textLength="31.18" lengthAdjust="spacingAndGlyphs">BRH1</text>
<text x="543.42" y="34.60" font-family="Liberation Sans" font-size="13.03" font-weight="bold" fill="#000" textLength="31.64" lengthAdjust="spacingAndGlyphs">BRH2</text>
<text x="353.60" y="13.58" font-family="Liberation Sans" font-size="11.86" font-weight="bold" fill="#000" textLength="21.94" lengthAdjust="spacingAndGlyphs">500</text>
<text x="367.42" y="95.39" font-family="Liberation Sans" font-size="11.16" font-weight="bold" fill="#000" textLength="8.19" lengthAdjust="spacingAndGlyphs">0</text>
<text x="384.64" y="114.08" font-family="Liberation Sans" font-size="11.86" font-weight="bold" fill="#000" textLength="7.84" lengthAdjust="spacingAndGlyphs">0</text>
<text x="458.54" y="114.08" font-family="Liberation Sans" font-size="11.86" font-weight="bold" fill="#000" textLength="14.70" lengthAdjust="spacingAndGlyphs">20</text>
<text x="535.31" y="114.08" font-family="Liberation Sans" font-size="11.86" font-weight="bold" fill="#000" textLength="14.22" lengthAdjust="spacingAndGlyphs">40</text>
<text x="611.50" y="114.08" font-family="Liberation Sans" font-size="11.86" font-weight="bold" fill="#000" textLength="15.05" lengthAdjust="spacingAndGlyphs">60</text>
<text transform="translate(364.83,81.74) rotate(-90)" x="0" y="0" font-family="Liberation Serif" font-size="14.89" font-weight="bold" fill="#000" textLength="62.36" lengthAdjust="spacingAndGlyphs">Load (kN)</text>
<text x="471.95" y="84.10" font-family="Liberation Serif" font-size="14.36" font-weight="bold" fill="#000" textLength="98.07" lengthAdjust="spacingAndGlyphs">Deflection (mm)</text>
<text x="495.15" y="145.14" font-family="Liberation Serif" font-size="17.65" font-weight="normal" fill="#000" textLength="23.70" lengthAdjust="spacingAndGlyphs"><tspan font-weight="normal">(</tspan><tspan font-weight="bold">b</tspan><tspan font-weight="normal">)</tspan></text>
<line x1="95.50" y1="172.60" x2="95.50" y2="251.45" stroke="#d9d9d9" stroke-width="1" stroke-dasharray="4.7,3.2" stroke-linecap="butt"/>
<line x1="142.70" y1="172.60" x2="142.70" y2="251.45" stroke="#d9d9d9" stroke-width="1" stroke-dasharray="4.7,3.2" stroke-linecap="butt"/>
<line x1="189.90" y1="172.60" x2="189.90" y2="251.45" stroke="#d9d9d9" stroke-width="1" stroke-dasharray="4.7,3.2" stroke-linecap="butt"/>
<line x1="237.10" y1="172.60" x2="237.10" y2="251.45" stroke="#d9d9d9" stroke-width="1" stroke-dasharray="4.7,3.2" stroke-linecap="butt"/>
<line x1="48.40" y1="172.60" x2="48.40" y2="251.45" stroke="#000" stroke-width="1.3" stroke-linecap="butt"/>
<line x1="47.80" y1="251.45" x2="284.10" y2="251.45" stroke="#000" stroke-width="1.3" stroke-linecap="butt"/>
<line x1="95.50" y1="251.45" x2="95.50" y2="255.75" stroke="#000" stroke-width="1.3" stroke-linecap="butt"/>
<line x1="142.70" y1="251.45" x2="142.70" y2="255.75" stroke="#000" stroke-width="1.3" stroke-linecap="butt"/>
<line x1="189.90" y1="251.45" x2="189.90" y2="255.75" stroke="#000" stroke-width="1.3" stroke-linecap="butt"/>
<line x1="237.10" y1="251.45" x2="237.10" y2="255.75" stroke="#000" stroke-width="1.3" stroke-linecap="butt"/>
<line x1="284.10" y1="251.45" x2="284.10" y2="255.75" stroke="#000" stroke-width="1.3" stroke-linecap="butt"/>
<line x1="48.70" y1="172.60" x2="284.10" y2="172.60" stroke="#5B9BD5" stroke-width="1.2" stroke-linecap="butt"/>
<line x1="284.10" y1="172.60" x2="284.10" y2="251.70" stroke="#5B9BD5" stroke-width="1.2" stroke-linecap="butt"/>
<polyline points="48.40,251.45 48.47,251.36 48.56,251.25 48.67,251.13 48.78,250.98 48.91,250.83 49.04,250.66 49.19,250.49 49.34,250.31 49.50,250.13 49.66,249.95 49.83,249.77 50.00,249.60 50.18,249.43 50.36,249.25 50.55,249.07 50.75,248.88 50.95,248.69 51.16,248.50 51.38,248.31 51.60,248.12 51.82,247.94 52.04,247.75 52.27,247.57 52.50,247.40 52.73,247.23 52.97,247.06 53.21,246.90 53.46,246.74 53.71,246.58 53.97,246.42 54.22,246.26 54.48,246.11 54.74,245.95 54.99,245.80 55.25,245.65 55.50,245.50 55.75,245.35 55.99,245.21 56.23,245.06 56.47,244.92 56.71,244.78 56.95,244.64 57.19,244.50 57.44,244.36 57.69,244.22 57.95,244.08 58.22,243.94 58.50,243.80 58.78,243.66 59.06,243.52 59.34,243.39 59.63,243.26 59.92,243.12 60.22,242.99 60.53,242.85 60.85,242.71 61.18,242.57 61.54,242.42 61.91,242.26 62.30,242.10 62.72,241.93 63.16,241.75 63.62,241.56 64.09,241.36 64.58,241.16 65.09,240.96 65.60,240.75 66.12,240.55 66.64,240.35 67.16,240.16 67.68,239.98 68.20,239.80 68.71,239.63 69.23,239.47 69.75,239.31 70.27,239.15 70.80,238.99 71.33,238.84 71.87,238.70 72.40,238.55 72.95,238.41 73.49,238.27 74.04,238.13 74.60,238.00 75.16,237.87 75.73,237.75 76.31,237.63 76.89,237.52 77.47,237.41 78.06,237.30 78.65,237.19 79.24,237.08 79.84,236.97 80.43,236.85 81.01,236.73 81.60,236.60 82.18,236.46 82.77,236.32 83.35,236.17 83.93,236.02 84.52,235.87 85.10,235.71 85.68,235.56 86.27,235.40 86.85,235.25 87.43,235.09 88.02,234.94 88.60,234.80 89.18,234.66 89.75,234.52 90.32,234.38 90.88,234.24 91.45,234.11 92.01,233.98 92.58,233.84 93.16,233.71 93.75,233.58 94.35,233.45 94.97,233.33 95.60,233.20 96.24,233.08 96.87,232.96 97.51,232.84 98.14,232.72 98.79,232.61 99.46,232.49 100.14,232.38 100.84,232.27 101.58,232.15 102.35,232.04 103.15,231.92 104.00,231.80 104.90,231.68 105.85,231.55 106.84,231.43 107.86,231.30 108.92,231.18 109.99,231.05 111.08,230.92 112.18,230.80 113.28,230.67 114.37,230.55 115.45,230.42 116.50,230.30 117.54,230.18 118.58,230.06 119.62,229.95 120.66,229.84 121.70,229.72 122.74,229.61 123.78,229.50 124.83,229.39 125.87,229.27 126.91,229.15 127.95,229.03 129.00,228.90 130.04,228.77 131.07,228.64 132.10,228.50 133.13,228.36 134.16,228.22 135.19,228.08 136.22,227.93 137.27,227.79 138.33,227.64 139.40,227.49 140.49,227.35 141.60,227.20 142.74,227.05 143.91,226.91 145.10,226.76 146.31,226.61 147.53,226.46 148.76,226.31 149.98,226.16 151.20,226.00 152.41,225.85 153.60,225.70 154.77,225.55 155.90,225.40 156.99,225.25 158.05,225.10 159.07,224.95 160.07,224.80 161.05,224.65 162.04,224.50 163.03,224.35 164.03,224.20 165.06,224.05 166.13,223.90 167.24,223.75 168.40,223.60 169.61,223.45 170.85,223.30 172.13,223.15 173.43,223.00 174.76,222.85 176.11,222.70 177.48,222.55 178.87,222.40 180.26,222.25 181.67,222.10 183.08,221.95 184.50,221.80 185.92,221.65 187.36,221.50 188.81,221.35 190.27,221.20 191.74,221.05 193.23,220.90 194.73,220.75 196.24,220.60 197.76,220.45 199.30,220.30 200.84,220.15 202.40,220.00 203.97,219.85 205.57,219.70 207.18,219.55 208.80,219.40 210.44,219.24 212.09,219.09 213.74,218.94 215.40,218.79 217.05,218.64 218.71,218.49 220.36,218.35 222.00,218.20 223.64,218.06 225.30,217.91 226.96,217.77 228.63,217.63 230.29,217.49 231.96,217.35 233.61,217.21 235.26,217.07 236.90,216.93 238.52,216.79 240.12,216.64 241.70,216.50 243.28,216.35 244.88,216.20 246.49,216.04 248.09,215.88 249.69,215.72 251.26,215.56 252.79,215.41 254.29,215.25 255.72,215.10 257.09,214.96 258.39,214.83 259.60,214.70 260.74,214.58 261.84,214.46 262.89,214.35 263.89,214.24 264.83,214.14 265.72,214.04 266.54,213.94 267.30,213.86 267.99,213.78 268.60,213.71 269.14,213.65 269.60,213.60" fill="none" stroke="#ED7D31" stroke-width="2.75" stroke-linecap="round" stroke-linejoin="round"/>
<circle cx="48.40" cy="251.45" r="4.4" fill="#ED7D31"/>
<circle cx="48.90" cy="250.84" r="4.4" fill="#ED7D31"/>
<circle cx="49.60" cy="250.02" r="4.4" fill="#ED7D31"/>
<circle cx="50.50" cy="249.12" r="4.4" fill="#ED7D31"/>
<circle cx="51.70" cy="248.04" r="4.4" fill="#ED7D31"/>
<circle cx="53.10" cy="246.98" r="4.4" fill="#ED7D31"/>
<circle cx="54.80" cy="245.92" r="4.4" fill="#ED7D31"/>
<circle cx="56.70" cy="244.78" r="4.4" fill="#ED7D31"/>
<circle cx="58.80" cy="243.65" r="4.4" fill="#ED7D31"/>
<circle cx="62.30" cy="242.10" r="4.4" fill="#ED7D31"/>
<circle cx="68.20" cy="239.80" r="4.4" fill="#ED7D31"/>
<circle cx="74.60" cy="238.00" r="4.4" fill="#ED7D31"/>
<circle cx="81.60" cy="236.60" r="4.4" fill="#ED7D31"/>
<circle cx="88.60" cy="234.80" r="4.4" fill="#ED7D31"/>
<circle cx="95.60" cy="233.20" r="4.4" fill="#ED7D31"/>
<circle cx="104.00" cy="231.80" r="4.4" fill="#ED7D31"/>
<circle cx="116.50" cy="230.30" r="4.4" fill="#ED7D31"/>
<circle cx="129.00" cy="228.90" r="4.4" fill="#ED7D31"/>
<circle cx="141.60" cy="227.20" r="4.4" fill="#ED7D31"/>
<circle cx="155.90" cy="225.40" r="4.4" fill="#ED7D31"/>
<circle cx="168.40" cy="223.60" r="4.4" fill="#ED7D31"/>
<circle cx="184.50" cy="221.80" r="4.4" fill="#ED7D31"/>
<circle cx="202.40" cy="220.00" r="4.4" fill="#ED7D31"/>
<circle cx="222.00" cy="218.20" r="4.4" fill="#ED7D31"/>
<circle cx="241.70" cy="216.50" r="4.4" fill="#ED7D31"/>
<circle cx="259.60" cy="214.70" r="4.4" fill="#ED7D31"/>
<circle cx="269.60" cy="213.60" r="4.4" fill="#ED7D31"/>
<polyline points="48.40,251.45 48.45,251.31 48.50,251.13 48.56,250.91 48.63,250.68 48.71,250.42 48.79,250.14 48.89,249.86 48.99,249.57 49.10,249.29 49.22,249.01 49.36,248.75 49.50,248.50 49.66,248.27 49.82,248.03 50.00,247.80 50.19,247.57 50.39,247.34 50.60,247.12 50.82,246.89 51.04,246.67 51.27,246.45 51.51,246.23 51.75,246.01 52.00,245.80 52.25,245.59 52.51,245.38 52.78,245.18 53.06,244.98 53.34,244.78 53.62,244.58 53.92,244.38 54.22,244.19 54.53,243.99 54.85,243.80 55.17,243.60 55.50,243.40 55.84,243.20 56.19,243.00 56.55,242.79 56.92,242.59 57.29,242.38 57.68,242.17 58.06,241.97 58.45,241.77 58.84,241.57 59.23,241.38 59.61,241.19 60.00,241.00 60.38,240.82 60.77,240.64 61.16,240.47 61.56,240.30 61.95,240.14 62.34,239.97 62.74,239.81 63.13,239.65 63.53,239.49 63.92,239.33 64.31,239.17 64.70,239.00 65.08,238.83 65.45,238.67 65.82,238.50 66.18,238.34 66.54,238.17 66.91,238.01 67.27,237.84 67.65,237.67 68.04,237.51 68.44,237.34 68.86,237.17 69.30,237.00 69.76,236.83 70.25,236.65 70.75,236.48 71.27,236.30 71.81,236.12 72.34,235.94 72.89,235.76 73.43,235.58 73.96,235.41 74.49,235.23 75.00,235.06 75.50,234.90 75.98,234.74 76.44,234.58 76.89,234.42 77.33,234.27 77.77,234.11 78.20,233.96 78.64,233.81 79.08,233.67 79.54,233.52 80.00,233.38 80.49,233.24 81.00,233.10 81.53,232.96 82.06,232.83 82.61,232.69 83.17,232.56 83.73,232.43 84.31,232.31 84.90,232.18 85.50,232.06 86.11,231.94 86.73,231.82 87.36,231.71 88.00,231.60 88.65,231.49 89.31,231.39 89.98,231.29 90.67,231.20 91.36,231.11 92.06,231.02 92.78,230.93 93.50,230.84 94.23,230.76 94.98,230.67 95.73,230.59 96.50,230.50 97.28,230.42 98.08,230.33 98.89,230.26 99.72,230.18 100.56,230.11 101.41,230.03 102.26,229.95 103.11,229.87 103.96,229.79 104.82,229.70 105.66,229.60 106.50,229.50 107.33,229.39 108.14,229.27 108.94,229.14 109.74,229.00 110.54,228.87 111.34,228.73 112.16,228.58 112.98,228.44 113.82,228.30 114.69,228.16 115.58,228.03 116.50,227.90 117.46,227.78 118.46,227.66 119.49,227.55 120.54,227.43 121.62,227.32 122.70,227.21 123.79,227.10 124.87,226.99 125.94,226.87 126.99,226.75 128.01,226.63 129.00,226.50 129.95,226.36 130.88,226.22 131.78,226.08 132.66,225.93 133.53,225.78 134.40,225.62 135.27,225.47 136.14,225.31 137.02,225.16 137.92,225.00 138.85,224.85 139.80,224.70 140.78,224.55 141.76,224.40 142.76,224.25 143.77,224.10 144.80,223.95 145.83,223.80 146.88,223.65 147.94,223.50 149.01,223.35 150.09,223.20 151.19,223.05 152.30,222.90 153.43,222.75 154.59,222.59 155.76,222.43 156.96,222.27 158.17,222.11 159.38,221.96 160.60,221.80 161.82,221.65 163.03,221.50 164.24,221.36 165.43,221.23 166.60,221.10 167.76,220.99 168.90,220.88 170.03,220.79 171.16,220.71 172.28,220.63 173.40,220.55 174.52,220.47 175.64,220.39 176.77,220.31 177.90,220.22 179.04,220.11 180.20,220.00 181.37,219.87 182.54,219.74 183.73,219.60 184.91,219.45 186.11,219.29 187.31,219.14 188.51,218.98 189.71,218.82 190.91,218.66 192.11,218.50 193.31,218.35 194.50,218.20 195.67,218.06 196.80,217.91 197.92,217.77 199.01,217.63 200.11,217.49 201.22,217.35 202.36,217.21 203.53,217.07 204.75,216.93 206.02,216.79 207.37,216.64 208.80,216.50 210.30,216.35 211.87,216.21 213.48,216.06 215.14,215.91 216.86,215.76 218.61,215.61 220.41,215.46 222.24,215.30 224.11,215.15 226.02,215.00 227.94,214.85 229.90,214.70 231.89,214.55 233.94,214.39 236.03,214.22 238.16,214.06 240.33,213.89 242.53,213.73 244.74,213.57 246.98,213.42 249.23,213.27 251.49,213.14 253.75,213.01 256.00,212.90 258.35,212.80 260.87,212.71 263.50,212.63 266.20,212.56 268.91,212.49 271.58,212.44 274.16,212.39 276.60,212.34 278.84,212.30 280.84,212.26 282.55,212.23 283.90,212.20" fill="none" stroke="#5B9BD5" stroke-width="2.75" stroke-linecap="round" stroke-linejoin="round"/>
<circle cx="48.40" cy="251.45" r="4.4" fill="#5B9BD5"/>
<circle cx="48.80" cy="250.12" r="4.4" fill="#5B9BD5"/>
<circle cx="49.40" cy="248.67" r="4.4" fill="#5B9BD5"/>
<circle cx="50.20" cy="247.56" r="4.4" fill="#5B9BD5"/>
<circle cx="51.20" cy="246.52" r="4.4" fill="#5B9BD5"/>
<circle cx="52.50" cy="245.39" r="4.4" fill="#5B9BD5"/>
<circle cx="54.00" cy="244.33" r="4.4" fill="#5B9BD5"/>
<circle cx="55.80" cy="243.22" r="4.4" fill="#5B9BD5"/>
<circle cx="57.80" cy="242.11" r="4.4" fill="#5B9BD5"/>
<circle cx="60.00" cy="241.00" r="4.4" fill="#5B9BD5"/>
<circle cx="64.70" cy="239.00" r="4.4" fill="#5B9BD5"/>
<circle cx="69.30" cy="237.00" r="4.4" fill="#5B9BD5"/>
<circle cx="75.50" cy="234.90" r="4.4" fill="#5B9BD5"/>
<circle cx="81.00" cy="233.10" r="4.4" fill="#5B9BD5"/>
<circle cx="88.00" cy="231.60" r="4.4" fill="#5B9BD5"/>
<circle cx="96.50" cy="230.50" r="4.4" fill="#5B9BD5"/>
<circle cx="106.50" cy="229.50" r="4.4" fill="#5B9BD5"/>
<circle cx="116.50" cy="227.90" r="4.4" fill="#5B9BD5"/>
<circle cx="129.00" cy="226.50" r="4.4" fill="#5B9BD5"/>
<circle cx="139.80" cy="224.70" r="4.4" fill="#5B9BD5"/>
<circle cx="152.30" cy="222.90" r="4.4" fill="#5B9BD5"/>
<circle cx="166.60" cy="221.10" r="4.4" fill="#5B9BD5"/>
<circle cx="180.20" cy="220.00" r="4.4" fill="#5B9BD5"/>
<circle cx="194.50" cy="218.20" r="4.4" fill="#5B9BD5"/>
<circle cx="208.80" cy="216.50" r="4.4" fill="#5B9BD5"/>
<circle cx="229.90" cy="214.70" r="4.4" fill="#5B9BD5"/>
<circle cx="256.00" cy="212.90" r="4.4" fill="#5B9BD5"/>
<circle cx="283.90" cy="212.20" r="4.4" fill="#5B9BD5"/>
<line x1="75.70" y1="179.30" x2="107.90" y2="179.30" stroke="#ED7D31" stroke-width="2.75" stroke-linecap="butt"/>
<circle cx="91.10" cy="179.30" r="4.4" fill="#ED7D31"/>
<line x1="171.50" y1="179.30" x2="202.80" y2="179.30" stroke="#5B9BD5" stroke-width="2.75" stroke-linecap="butt"/>
<circle cx="186.70" cy="179.30" r="4.4" fill="#5B9BD5"/>
<text x="110.02" y="182.67" font-family="Liberation Sans" font-size="11.56" font-weight="bold" fill="#000" textLength="38.00" lengthAdjust="spacingAndGlyphs">BRH3a</text>
<text x="205.41" y="182.80" font-family="Liberation Sans" font-size="11.92" font-weight="bold" fill="#000" textLength="32.05" lengthAdjust="spacingAndGlyphs">BRH4</text>
<text x="13.60" y="176.49" font-family="Liberation Sans" font-size="11.02" font-weight="bold" fill="#000" textLength="21.63" lengthAdjust="spacingAndGlyphs">500</text>
<text x="27.44" y="255.29" font-family="Liberation Sans" font-size="11.02" font-weight="bold" fill="#000" textLength="7.84" lengthAdjust="spacingAndGlyphs">0</text>
<text x="44.62" y="273.88" font-family="Liberation Sans" font-size="12.43" font-weight="bold" fill="#000" textLength="8.19" lengthAdjust="spacingAndGlyphs">0</text>
<text x="87.93" y="273.88" font-family="Liberation Sans" font-size="12.43" font-weight="bold" fill="#000" textLength="15.44" lengthAdjust="spacingAndGlyphs">10</text>
<text x="135.43" y="273.88" font-family="Liberation Sans" font-size="12.43" font-weight="bold" fill="#000" textLength="15.02" lengthAdjust="spacingAndGlyphs">20</text>
<text x="182.69" y="273.86" font-family="Liberation Sans" font-size="12.40" font-weight="bold" fill="#000" textLength="14.85" lengthAdjust="spacingAndGlyphs">30</text>
<text x="229.90" y="273.88" font-family="Liberation Sans" font-size="12.43" font-weight="bold" fill="#000" textLength="14.74" lengthAdjust="spacingAndGlyphs">40</text>
<text x="276.69" y="273.88" font-family="Liberation Sans" font-size="12.43" font-weight="bold" fill="#000" textLength="14.97" lengthAdjust="spacingAndGlyphs">50</text>
<text transform="translate(10.91,251.27) rotate(-90)" x="0" y="0" font-family="Liberation Serif" font-size="16.87" font-weight="bold" fill="#000" textLength="69.46" lengthAdjust="spacingAndGlyphs">Load (kN)</text>
<text x="129.55" y="244.10" font-family="Liberation Serif" font-size="12.98" font-weight="bold" fill="#000" textLength="96.96" lengthAdjust="spacingAndGlyphs">Deflection (mm)</text>
<text x="113.76" y="306.99" font-family="Liberation Serif" font-size="17.43" font-weight="normal" fill="#000" textLength="21.29" lengthAdjust="spacingAndGlyphs"><tspan font-weight="normal">(</tspan><tspan font-weight="bold">c</tspan><tspan font-weight="normal">)</tspan></text>
<line x1="502.40" y1="173.30" x2="502.40" y2="253.45" stroke="#d9d9d9" stroke-width="1" stroke-dasharray="4.7,3.2" stroke-linecap="butt"/>
<line x1="589.90" y1="173.30" x2="589.90" y2="253.45" stroke="#d9d9d9" stroke-width="1" stroke-dasharray="4.7,3.2" stroke-linecap="butt"/>
<line x1="677.50" y1="173.30" x2="677.50" y2="253.45" stroke="#d9d9d9" stroke-width="1" stroke-dasharray="4.7,3.2" stroke-linecap="butt"/>
<line x1="414.70" y1="173.30" x2="677.50" y2="173.30" stroke="#d9d9d9" stroke-width="1" stroke-dasharray="4.7,3.2" stroke-linecap="butt"/>
<line x1="414.70" y1="173.30" x2="414.70" y2="253.45" stroke="#000" stroke-width="1.3" stroke-linecap="butt"/>
<line x1="414.10" y1="253.45" x2="677.50" y2="253.45" stroke="#000" stroke-width="1.3" stroke-linecap="butt"/>
<line x1="502.40" y1="253.45" x2="502.40" y2="257.75" stroke="#000" stroke-width="1.3" stroke-linecap="butt"/>
<line x1="589.90" y1="253.45" x2="589.90" y2="257.75" stroke="#000" stroke-width="1.3" stroke-linecap="butt"/>
<line x1="677.50" y1="253.45" x2="677.50" y2="257.75" stroke="#000" stroke-width="1.3" stroke-linecap="butt"/>
<polyline points="414.70,253.45 414.79,253.31 414.89,253.13 415.02,252.92 415.16,252.69 415.31,252.43 415.47,252.16 415.64,251.89 415.82,251.61 415.99,251.33 416.17,251.07 416.34,250.82 416.50,250.60 416.66,250.39 416.82,250.19 416.97,250.00 417.13,249.81 417.29,249.63 417.46,249.45 417.62,249.27 417.79,249.09 417.96,248.92 418.14,248.75 418.32,248.57 418.50,248.40 418.68,248.23 418.86,248.07 419.03,247.92 419.20,247.77 419.37,247.62 419.56,247.48 419.75,247.32 419.96,247.16 420.18,246.99 420.43,246.81 420.70,246.62 421.00,246.40 421.33,246.16 421.68,245.90 422.05,245.62 422.43,245.33 422.84,245.03 423.26,244.73 423.70,244.42 424.16,244.11 424.62,243.81 425.10,243.53 425.60,243.25 426.10,243.00 426.62,242.76 427.18,242.54 427.76,242.32 428.36,242.10 428.97,241.90 429.59,241.70 430.21,241.51 430.83,241.32 431.45,241.13 432.05,240.95 432.64,240.78 433.20,240.60 433.74,240.43 434.26,240.27 434.77,240.11 435.27,239.97 435.77,239.82 436.26,239.68 436.75,239.54 437.24,239.40 437.74,239.26 438.24,239.11 438.76,238.96 439.30,238.80 439.85,238.63 440.40,238.46 440.96,238.28 441.52,238.10 442.09,237.92 442.66,237.73 443.25,237.55 443.84,237.37 444.44,237.19 445.05,237.02 445.67,236.85 446.30,236.70 446.95,236.55 447.61,236.41 448.28,236.28 448.97,236.15 449.67,236.03 450.37,235.91 451.08,235.79 451.79,235.67 452.49,235.55 453.20,235.44 453.90,235.32 454.60,235.20 455.29,235.08 455.97,234.96 456.64,234.84 457.31,234.72 457.99,234.60 458.66,234.48 459.34,234.36 460.03,234.25 460.73,234.13 461.44,234.02 462.16,233.91 462.90,233.80 463.64,233.69 464.36,233.59 465.08,233.48 465.79,233.38 466.52,233.28 467.26,233.18 468.03,233.08 468.84,232.99 469.69,232.89 470.60,232.79 471.56,232.70 472.60,232.60 473.72,232.51 474.91,232.42 476.18,232.33 477.49,232.24 478.85,232.15 480.25,232.07 481.67,231.98 483.10,231.89 484.53,231.80 485.94,231.71 487.34,231.61 488.70,231.50 490.04,231.39 491.36,231.28 492.68,231.16 494.00,231.04 495.32,230.91 496.64,230.79 497.96,230.66 499.30,230.53 500.65,230.40 502.01,230.27 503.40,230.13 504.80,230.00 506.23,229.87 507.68,229.73 509.15,229.59 510.64,229.45 512.14,229.31 513.64,229.17 515.16,229.03 516.67,228.88 518.19,228.74 519.70,228.59 521.21,228.45 522.70,228.30 524.19,228.15 525.67,228.00 527.15,227.84 528.64,227.68 530.12,227.52 531.60,227.36 533.08,227.21 534.56,227.05 536.05,226.90 537.53,226.76 539.01,226.63 540.50,226.50 541.99,226.39 543.48,226.28 544.97,226.19 546.46,226.11 547.95,226.03 549.44,225.95 550.94,225.87 552.43,225.79 553.92,225.71 555.42,225.62 556.91,225.51 558.40,225.40 559.89,225.27 561.38,225.14 562.88,225.00 564.37,224.85 565.86,224.70 567.35,224.54 568.84,224.39 570.33,224.23 571.82,224.07 573.32,223.91 574.81,223.75 576.30,223.60 577.79,223.45 579.28,223.30 580.77,223.15 582.27,223.00 583.76,222.85 585.25,222.70 586.74,222.55 588.23,222.40 589.73,222.25 591.22,222.10 592.71,221.95 594.20,221.80 595.69,221.66 597.18,221.52 598.68,221.39 600.17,221.26 601.66,221.14 603.15,221.01 604.64,220.87 606.13,220.73 607.63,220.57 609.12,220.40 610.61,220.21 612.10,220.00 613.65,219.76 615.29,219.47 616.99,219.16 618.73,218.83 620.46,218.48 622.17,218.14 623.81,217.80 625.36,217.47 626.78,217.17 628.05,216.90 629.14,216.67 630.00,216.50" fill="none" stroke="#ED7D31" stroke-width="2.75" stroke-linecap="round" stroke-linejoin="round"/>
<circle cx="414.70" cy="253.45" r="4.4" fill="#ED7D31"/>
<circle cx="415.50" cy="252.12" r="4.4" fill="#ED7D31"/>
<circle cx="416.70" cy="250.34" r="4.4" fill="#ED7D31"/>
<circle cx="418.50" cy="248.40" r="4.4" fill="#ED7D31"/>
<circle cx="421.00" cy="246.40" r="4.4" fill="#ED7D31"/>
<circle cx="426.10" cy="243.00" r="4.4" fill="#ED7D31"/>
<circle cx="433.20" cy="240.60" r="4.4" fill="#ED7D31"/>
<circle cx="439.30" cy="238.80" r="4.4" fill="#ED7D31"/>
<circle cx="446.30" cy="236.70" r="4.4" fill="#ED7D31"/>
<circle cx="454.60" cy="235.20" r="4.4" fill="#ED7D31"/>
<circle cx="462.90" cy="233.80" r="4.4" fill="#ED7D31"/>
<circle cx="472.60" cy="232.60" r="4.4" fill="#ED7D31"/>
<circle cx="488.70" cy="231.50" r="4.4" fill="#ED7D31"/>
<circle cx="504.80" cy="230.00" r="4.4" fill="#ED7D31"/>
<circle cx="522.70" cy="228.30" r="4.4" fill="#ED7D31"/>
<circle cx="540.50" cy="226.50" r="4.4" fill="#ED7D31"/>
<circle cx="558.40" cy="225.40" r="4.4" fill="#ED7D31"/>
<circle cx="576.30" cy="223.60" r="4.4" fill="#ED7D31"/>
<circle cx="594.20" cy="221.80" r="4.4" fill="#ED7D31"/>
<circle cx="612.10" cy="220.00" r="4.4" fill="#ED7D31"/>
<circle cx="630.00" cy="216.50" r="4.4" fill="#ED7D31"/>
<polyline points="414.70,253.45 414.73,253.26 414.75,253.01 414.79,252.72 414.82,252.40 414.86,252.05 414.91,251.67 414.96,251.29 415.01,250.91 415.07,250.53 415.14,250.16 415.22,249.82 415.30,249.50 415.39,249.20 415.49,248.91 415.59,248.63 415.70,248.35 415.82,248.07 415.94,247.80 416.07,247.54 416.21,247.28 416.35,247.03 416.49,246.78 416.64,246.54 416.80,246.30 416.96,246.07 417.13,245.85 417.31,245.63 417.50,245.42 417.69,245.21 417.89,245.01 418.09,244.82 418.29,244.63 418.49,244.44 418.70,244.26 418.90,244.08 419.10,243.90 419.30,243.73 419.50,243.56 419.70,243.40 419.91,243.24 420.11,243.09 420.32,242.94 420.53,242.80 420.74,242.66 420.95,242.51 421.16,242.38 421.38,242.24 421.60,242.10 421.82,241.97 422.02,241.83 422.22,241.71 422.42,241.59 422.62,241.46 422.83,241.34 423.05,241.22 423.28,241.10 423.52,240.98 423.79,240.86 424.08,240.73 424.40,240.60 424.74,240.46 425.11,240.33 425.50,240.18 425.90,240.04 426.33,239.90 426.76,239.75 427.21,239.60 427.67,239.46 428.15,239.32 428.62,239.17 429.11,239.04 429.60,238.90 430.10,238.77 430.62,238.64 431.15,238.51 431.70,238.39 432.25,238.26 432.81,238.14 433.38,238.01 433.95,237.89 434.52,237.77 435.08,237.65 435.65,237.52 436.20,237.40 436.75,237.28 437.30,237.15 437.84,237.03 438.39,236.90 438.93,236.78 439.47,236.65 440.02,236.53 440.57,236.40 441.12,236.28 441.68,236.15 442.24,236.03 442.80,235.90 443.36,235.78 443.92,235.65 444.48,235.53 445.04,235.41 445.60,235.29 446.16,235.16 446.74,235.04 447.32,234.91 447.91,234.79 448.52,234.66 449.15,234.53 449.80,234.40 450.46,234.27 451.12,234.13 451.78,233.99 452.45,233.86 453.13,233.72 453.83,233.57 454.55,233.43 455.30,233.29 456.07,233.14 456.88,233.00 457.72,232.85 458.60,232.70 459.52,232.55 460.48,232.39 461.48,232.22 462.50,232.05 463.56,231.88 464.64,231.71 465.74,231.55 466.86,231.38 468.00,231.22 469.16,231.07 470.32,230.93 471.50,230.80 472.70,230.68 473.92,230.57 475.17,230.48 476.45,230.39 477.74,230.30 479.04,230.22 480.36,230.14 481.67,230.06 482.99,229.98 484.30,229.89 485.61,229.80 486.90,229.70 488.18,229.60 489.44,229.49 490.69,229.38 491.94,229.27 493.19,229.16 494.44,229.04 495.71,228.93 496.98,228.81 498.27,228.69 499.59,228.56 500.93,228.43 502.30,228.30 503.71,228.16 505.15,228.02 506.63,227.88 508.12,227.73 509.64,227.58 511.16,227.43 512.69,227.27 514.22,227.11 515.74,226.96 517.25,226.80 518.74,226.65 520.20,226.50 521.64,226.35 523.05,226.20 524.45,226.05 525.84,225.90 527.23,225.75 528.61,225.60 529.98,225.45 531.37,225.30 532.76,225.15 534.15,225.00 535.57,224.85 537.00,224.70 538.44,224.55 539.87,224.39 541.29,224.23 542.72,224.07 544.16,223.91 545.61,223.76 547.07,223.60 548.56,223.45 550.07,223.30 551.61,223.16 553.18,223.03 554.80,222.90 556.46,222.79 558.16,222.68 559.89,222.59 561.66,222.51 563.45,222.43 565.26,222.35 567.08,222.27 568.92,222.19 570.77,222.11 572.62,222.02 574.46,221.91 576.30,221.80 578.14,221.67 580.00,221.54 581.86,221.40 583.74,221.25 585.62,221.10 587.51,220.94 589.40,220.79 591.29,220.63 593.17,220.47 595.06,220.31 596.93,220.15 598.80,220.00 600.66,219.85 602.51,219.70 604.36,219.55 606.21,219.40 608.06,219.24 609.90,219.09 611.74,218.94 613.59,218.79 615.44,218.64 617.29,218.49 619.14,218.35 621.00,218.20 622.94,218.05 624.99,217.89 627.13,217.73 629.31,217.56 631.49,217.40 633.64,217.24 635.70,217.08 637.66,216.94 639.45,216.80 641.05,216.68 642.41,216.58 643.50,216.50" fill="none" stroke="#5B9BD5" stroke-width="2.75" stroke-linecap="round" stroke-linejoin="round"/>
<circle cx="414.70" cy="253.45" r="4.4" fill="#5B9BD5"/>
<circle cx="415.20" cy="249.89" r="4.4" fill="#5B9BD5"/>
<circle cx="416.00" cy="247.69" r="4.4" fill="#5B9BD5"/>
<circle cx="417.20" cy="245.77" r="4.4" fill="#5B9BD5"/>
<circle cx="419.10" cy="243.90" r="4.4" fill="#5B9BD5"/>
<circle cx="421.60" cy="242.10" r="4.4" fill="#5B9BD5"/>
<circle cx="424.40" cy="240.60" r="4.4" fill="#5B9BD5"/>
<circle cx="429.60" cy="238.90" r="4.4" fill="#5B9BD5"/>
<circle cx="436.20" cy="237.40" r="4.4" fill="#5B9BD5"/>
<circle cx="442.80" cy="235.90" r="4.4" fill="#5B9BD5"/>
<circle cx="449.80" cy="234.40" r="4.4" fill="#5B9BD5"/>
<circle cx="458.60" cy="232.70" r="4.4" fill="#5B9BD5"/>
<circle cx="471.50" cy="230.80" r="4.4" fill="#5B9BD5"/>
<circle cx="486.90" cy="229.70" r="4.4" fill="#5B9BD5"/>
<circle cx="502.30" cy="228.30" r="4.4" fill="#5B9BD5"/>
<circle cx="520.20" cy="226.50" r="4.4" fill="#5B9BD5"/>
<circle cx="537.00" cy="224.70" r="4.4" fill="#5B9BD5"/>
<circle cx="554.80" cy="222.90" r="4.4" fill="#5B9BD5"/>
<circle cx="576.30" cy="221.80" r="4.4" fill="#5B9BD5"/>
<circle cx="598.80" cy="220.00" r="4.4" fill="#5B9BD5"/>
<circle cx="621.00" cy="218.20" r="4.4" fill="#5B9BD5"/>
<circle cx="643.50" cy="216.50" r="4.4" fill="#5B9BD5"/>
<line x1="452.30" y1="192.80" x2="484.00" y2="192.80" stroke="#ED7D31" stroke-width="2.75" stroke-linecap="butt"/>
<circle cx="468.30" cy="192.80" r="4.4" fill="#ED7D31"/>
<line x1="545.20" y1="192.80" x2="576.40" y2="192.80" stroke="#5B9BD5" stroke-width="2.75" stroke-linecap="butt"/>
<circle cx="560.80" cy="192.80" r="4.4" fill="#5B9BD5"/>
<text x="487.03" y="196.87" font-family="Liberation Sans" font-size="13.04" font-weight="bold" fill="#000" textLength="31.50" lengthAdjust="spacingAndGlyphs">BRH5</text>
<text x="579.21" y="196.87" font-family="Liberation Sans" font-size="12.85" font-weight="bold" fill="#000" textLength="32.32" lengthAdjust="spacingAndGlyphs">BRH6</text>
<text x="380.31" y="176.89" font-family="Liberation Sans" font-size="11.16" font-weight="bold" fill="#000" textLength="21.42" lengthAdjust="spacingAndGlyphs">500</text>
<text x="393.94" y="257.10" font-family="Liberation Sans" font-size="10.59" font-weight="bold" fill="#000" textLength="7.84" lengthAdjust="spacingAndGlyphs">0</text>
<text x="410.75" y="275.67" font-family="Liberation Sans" font-size="13.14" font-weight="bold" fill="#000" textLength="7.72" lengthAdjust="spacingAndGlyphs">0</text>
<text x="495.04" y="275.67" font-family="Liberation Sans" font-size="13.14" font-weight="bold" fill="#000" textLength="14.70" lengthAdjust="spacingAndGlyphs">20</text>
<text x="582.80" y="275.67" font-family="Liberation Sans" font-size="13.14" font-weight="bold" fill="#000" textLength="14.53" lengthAdjust="spacingAndGlyphs">40</text>
<text x="670.91" y="275.67" font-family="Liberation Sans" font-size="13.14" font-weight="bold" fill="#000" textLength="14.84" lengthAdjust="spacingAndGlyphs">60</text>
<text transform="translate(385.31,244.44) rotate(-90)" x="0" y="0" font-family="Liberation Serif" font-size="15.00" font-weight="bold" fill="#000" textLength="62.26" lengthAdjust="spacingAndGlyphs">Load (kN)</text>
<text x="476.15" y="246.50" font-family="Liberation Serif" font-size="13.44" font-weight="bold" fill="#000" textLength="97.27" lengthAdjust="spacingAndGlyphs">Deflection (mm)</text>
<text x="483.04" y="306.92" font-family="Liberation Serif" font-size="17.76" font-weight="normal" fill="#000" textLength="23.92" lengthAdjust="spacingAndGlyphs"><tspan font-weight="normal">(</tspan><tspan font-weight="bold">d</tspan><tspan font-weight="normal">)</tspan></text>
<line x1="144.30" y1="343.10" x2="144.30" y2="417.50" stroke="#d9d9d9" stroke-width="1" stroke-dasharray="4.7,3.2" stroke-linecap="butt"/>
<line x1="230.00" y1="343.10" x2="230.00" y2="417.50" stroke="#d9d9d9" stroke-width="1" stroke-dasharray="4.7,3.2" stroke-linecap="butt"/>
<line x1="314.90" y1="343.10" x2="314.90" y2="417.50" stroke="#d9d9d9" stroke-width="1" stroke-dasharray="4.7,3.2" stroke-linecap="butt"/>
<line x1="59.50" y1="380.50" x2="314.90" y2="380.50" stroke="#d9d9d9" stroke-width="1" stroke-dasharray="4.7,3.2" stroke-linecap="butt"/>
<line x1="59.50" y1="343.10" x2="314.90" y2="343.10" stroke="#d9d9d9" stroke-width="1" stroke-dasharray="4.7,3.2" stroke-linecap="butt"/>
<line x1="59.50" y1="343.10" x2="59.50" y2="417.50" stroke="#000" stroke-width="1.3" stroke-linecap="butt"/>
<line x1="58.90" y1="417.50" x2="314.90" y2="417.50" stroke="#000" stroke-width="1.3" stroke-linecap="butt"/>
<polyline points="59.50,417.50 59.55,417.28 59.60,416.99 59.67,416.66 59.74,416.28 59.82,415.87 59.91,415.44 60.00,415.00 60.09,414.56 60.19,414.12 60.29,413.72 60.40,413.34 60.50,413.00 60.60,412.69 60.71,412.40 60.82,412.12 60.93,411.85 61.05,411.59 61.17,411.34 61.29,411.10 61.42,410.87 61.56,410.64 61.70,410.42 61.85,410.21 62.00,410.00 62.16,409.80 62.32,409.62 62.49,409.44 62.66,409.28 62.83,409.13 63.01,408.97 63.20,408.83 63.40,408.67 63.61,408.52 63.83,408.36 64.06,408.18 64.30,408.00 64.56,407.80 64.82,407.60 65.10,407.38 65.38,407.16 65.68,406.93 65.98,406.71 66.30,406.48 66.62,406.25 66.95,406.03 67.29,405.81 67.64,405.60 68.00,405.40 68.37,405.21 68.75,405.02 69.15,404.83 69.56,404.65 69.97,404.47 70.39,404.29 70.82,404.12 71.26,403.95 71.69,403.79 72.13,403.62 72.57,403.46 73.00,403.30 73.42,403.15 73.81,403.02 74.18,402.90 74.54,402.78 74.91,402.67 75.29,402.56 75.69,402.44 76.13,402.31 76.60,402.16 77.14,402.00 77.73,401.81 78.40,401.60 79.15,401.35 79.97,401.08 80.86,400.78 81.80,400.46 82.79,400.13 83.81,399.79 84.85,399.44 85.90,399.09 86.95,398.75 87.99,398.42 89.01,398.10 90.00,397.80 90.97,397.52 91.94,397.25 92.92,396.98 93.89,396.72 94.87,396.47 95.84,396.22 96.82,395.97 97.80,395.72 98.77,395.47 99.75,395.22 100.72,394.96 101.70,394.70 102.68,394.43 103.65,394.16 104.63,393.88 105.60,393.60 106.58,393.32 107.56,393.04 108.53,392.76 109.51,392.49 110.48,392.21 111.46,391.93 112.43,391.67 113.40,391.40 114.36,391.14 115.31,390.88 116.25,390.63 117.19,390.39 118.12,390.14 119.06,389.89 120.00,389.65 120.96,389.40 121.93,389.16 122.93,388.91 123.95,388.66 125.00,388.40 126.07,388.14 127.16,387.87 128.27,387.60 129.39,387.33 130.53,387.06 131.68,386.79 132.85,386.52 134.04,386.24 135.25,385.98 136.48,385.71 137.73,385.45 139.00,385.20 140.30,384.95 141.63,384.71 142.98,384.47 144.36,384.24 145.76,384.00 147.18,383.77 148.60,383.55 150.03,383.32 151.45,383.09 152.88,382.86 154.30,382.63 155.70,382.40 157.10,382.17 158.49,381.93 159.89,381.70 161.29,381.46 162.69,381.23 164.09,380.99 165.49,380.76 166.90,380.53 168.30,380.29 169.70,380.06 171.10,379.83 172.50,379.60 173.90,379.37 175.30,379.14 176.70,378.92 178.10,378.69 179.50,378.46 180.90,378.24 182.30,378.01 183.70,377.79 185.10,377.57 186.50,377.34 187.90,377.12 189.30,376.90 190.70,376.68 192.10,376.46 193.50,376.23 194.90,376.01 196.30,375.78 197.70,375.56 199.10,375.34 200.50,375.13 201.90,374.91 203.30,374.70 204.70,374.50 206.10,374.30 207.50,374.11 208.90,373.92 210.30,373.74 211.70,373.56 213.10,373.38 214.50,373.21 215.90,373.04 217.30,372.87 218.70,372.71 220.10,372.54 221.50,372.37 222.90,372.20 224.30,372.03 225.70,371.85 227.10,371.68 228.50,371.50 229.90,371.32 231.30,371.15 232.70,370.98 234.10,370.81 235.50,370.65 236.90,370.49 238.30,370.34 239.70,370.20 241.10,370.07 242.49,369.94 243.88,369.82 245.26,369.70 246.65,369.59 248.04,369.49 249.43,369.38 250.83,369.29 252.23,369.19 253.64,369.09 255.06,369.00 256.50,368.90 258.00,368.80 259.61,368.70 261.30,368.61 263.02,368.51 264.75,368.41 266.45,368.32 268.09,368.23 269.65,368.15 271.08,368.07 272.35,368.01 273.44,367.95 274.30,367.90" fill="none" stroke="#00B0F0" stroke-width="2.3" stroke-linecap="round" stroke-linejoin="round"/>
<polyline points="59.50,417.50 59.62,417.31 59.76,417.07 59.93,416.80 60.11,416.49 60.31,416.15 60.53,415.79 60.76,415.41 61.00,415.03 61.25,414.64 61.50,414.25 61.75,413.87 62.00,413.50 62.26,413.14 62.52,412.76 62.79,412.38 63.07,411.99 63.36,411.59 63.66,411.19 63.96,410.80 64.26,410.40 64.57,410.01 64.88,409.63 65.19,409.26 65.50,408.90 65.82,408.55 66.14,408.21 66.46,407.87 66.79,407.54 67.12,407.22 67.46,406.89 67.79,406.58 68.13,406.26 68.47,405.94 68.82,405.63 69.16,405.32 69.50,405.00 69.84,404.68 70.19,404.37 70.53,404.06 70.88,403.75 71.23,403.44 71.58,403.14 71.93,402.83 72.29,402.53 72.64,402.22 72.99,401.91 73.35,401.61 73.70,401.30 74.05,400.99 74.41,400.68 74.77,400.37 75.12,400.05 75.48,399.74 75.84,399.43 76.20,399.11 76.56,398.80 76.92,398.50 77.28,398.19 77.64,397.89 78.00,397.60 78.36,397.31 78.73,397.02 79.09,396.73 79.45,396.44 79.82,396.16 80.18,395.88 80.55,395.60 80.91,395.33 81.28,395.06 81.65,394.80 82.03,394.55 82.40,394.30 82.77,394.06 83.15,393.83 83.52,393.61 83.89,393.40 84.26,393.19 84.64,392.98 85.02,392.78 85.40,392.58 85.79,392.39 86.18,392.19 86.59,392.00 87.00,391.80 87.42,391.61 87.85,391.41 88.29,391.22 88.73,391.04 89.18,390.85 89.64,390.67 90.10,390.49 90.56,390.31 91.02,390.13 91.48,389.95 91.94,389.78 92.40,389.60 92.86,389.42 93.33,389.25 93.80,389.07 94.28,388.90 94.75,388.73 95.23,388.56 95.71,388.39 96.18,388.22 96.64,388.06 97.10,387.90 97.56,387.75 98.00,387.60 98.41,387.46 98.79,387.34 99.13,387.22 99.46,387.11 99.78,387.01 100.11,386.91 100.45,386.80 100.83,386.69 101.26,386.56 101.73,386.43 102.28,386.27 102.90,386.10 103.61,385.90 104.39,385.68 105.24,385.45 106.14,385.20 107.09,384.94 108.07,384.67 109.07,384.40 110.08,384.14 111.09,383.88 112.08,383.64 113.06,383.41 114.00,383.20 114.91,383.01 115.80,382.85 116.69,382.70 117.56,382.56 118.44,382.42 119.32,382.29 120.21,382.17 121.11,382.03 122.04,381.89 122.99,381.75 123.98,381.58 125.00,381.40 126.03,381.20 127.05,381.00 128.07,380.78 129.09,380.56 130.14,380.33 131.22,380.09 132.34,379.85 133.52,379.61 134.76,379.36 136.08,379.11 137.49,378.85 139.00,378.60 140.62,378.34 142.33,378.08 144.13,377.81 146.01,377.54 147.95,377.27 149.95,376.99 151.99,376.71 154.07,376.43 156.17,376.14 158.28,375.86 160.40,375.58 162.50,375.30 164.62,375.02 166.77,374.73 168.97,374.43 171.19,374.13 173.43,373.83 175.69,373.54 177.96,373.24 180.24,372.96 182.52,372.68 184.79,372.40 187.05,372.15 189.30,371.90 191.56,371.67 193.86,371.45 196.18,371.24 198.51,371.04 200.85,370.85 203.17,370.67 205.47,370.49 207.73,370.31 209.95,370.14 212.11,369.96 214.20,369.78 216.20,369.60 218.13,369.42 220.00,369.23 221.82,369.04 223.58,368.86 225.30,368.68 226.97,368.49 228.61,368.32 230.21,368.14 231.77,367.97 233.31,367.81 234.81,367.65 236.30,367.50 237.79,367.35 239.30,367.21 240.82,367.07 242.32,366.93 243.79,366.80 245.21,366.67 246.55,366.55 247.81,366.44 248.96,366.34 249.99,366.24 250.88,366.17 251.60,366.10" fill="none" stroke="#C00000" stroke-width="3.3" stroke-dasharray="8.579,13.928" stroke-linecap="round" stroke-linejoin="round"/>
<line x1="101.10" y1="349.30" x2="142.40" y2="349.30" stroke="#00B0F0" stroke-width="2.4" stroke-linecap="butt"/>
<line x1="240.50" y1="349.30" x2="250.70" y2="349.30" stroke="#C00000" stroke-width="3.0" stroke-linecap="round"/>
<line x1="263.30" y1="349.30" x2="273.00" y2="349.30" stroke="#C00000" stroke-width="3.0" stroke-linecap="round"/>
<text x="146.09" y="353.80" font-family="Liberation Serif" font-size="13.74" font-weight="normal" fill="#000" textLength="76.29" lengthAdjust="spacingAndGlyphs">Experimental</text>
<text x="285.48" y="353.20" font-family="Liberation Sans" font-size="12.65" font-weight="normal" fill="#000" textLength="34.04" lengthAdjust="spacingAndGlyphs">ASYSY</text>
<text x="193.36" y="406.60" font-family="Liberation Serif" font-size="13.90" font-weight="bold" fill="#000" textLength="86.56" lengthAdjust="spacingAndGlyphs">Deflction(mm)</text>
<text x="20.78" y="347.81" font-family="Liberation Sans" font-size="13.98" font-weight="bold" fill="#000" textLength="24.11" lengthAdjust="spacingAndGlyphs">400</text>
<text x="20.49" y="384.81" font-family="Liberation Sans" font-size="13.98" font-weight="bold" fill="#000" textLength="24.41" lengthAdjust="spacingAndGlyphs">200</text>
<text x="36.50" y="422.31" font-family="Liberation Sans" font-size="13.98" font-weight="bold" fill="#000" textLength="8.42" lengthAdjust="spacingAndGlyphs">0</text>
<text x="55.12" y="442.66" font-family="Liberation Sans" font-size="14.41" font-weight="bold" fill="#000" textLength="8.19" lengthAdjust="spacingAndGlyphs">0</text>
<text x="136.24" y="442.66" font-family="Liberation Sans" font-size="14.41" font-weight="bold" fill="#000" textLength="16.42" lengthAdjust="spacingAndGlyphs">20</text>
<text x="221.63" y="442.66" font-family="Liberation Sans" font-size="14.41" font-weight="bold" fill="#000" textLength="16.11" lengthAdjust="spacingAndGlyphs">40</text>
<text x="307.11" y="442.66" font-family="Liberation Sans" font-size="14.41" font-weight="bold" fill="#000" textLength="16.45" lengthAdjust="spacingAndGlyphs">60</text>
<text transform="translate(11.21,398.14) rotate(-90)" x="0" y="0" font-family="Liberation Serif" font-size="13.57" font-weight="bold" fill="#000" textLength="59.76" lengthAdjust="spacingAndGlyphs">Load(Kn)</text>
<text x="136.58" y="488.60" font-family="Liberation Serif" font-size="17.72" font-weight="normal" fill="#000" textLength="109.35" lengthAdjust="spacingAndGlyphs"><tspan font-weight="bold">(e)</tspan><tspan font-weight="normal"> Beam BH1</tspan></text>
<line x1="506.20" y1="344.90" x2="506.20" y2="425.45" stroke="#d9d9d9" stroke-width="1" stroke-dasharray="4.7,3.2" stroke-linecap="butt"/>
<line x1="588.00" y1="344.90" x2="588.00" y2="425.45" stroke="#d9d9d9" stroke-width="1" stroke-dasharray="4.7,3.2" stroke-linecap="butt"/>
<line x1="669.60" y1="344.90" x2="669.60" y2="425.45" stroke="#d9d9d9" stroke-width="1" stroke-dasharray="4.7,3.2" stroke-linecap="butt"/>
<line x1="424.70" y1="385.20" x2="669.60" y2="385.20" stroke="#d9d9d9" stroke-width="1" stroke-dasharray="4.7,3.2" stroke-linecap="butt"/>
<line x1="424.70" y1="344.90" x2="669.60" y2="344.90" stroke="#d9d9d9" stroke-width="1" stroke-dasharray="4.7,3.2" stroke-linecap="butt"/>
<line x1="424.70" y1="344.90" x2="424.70" y2="425.45" stroke="#000" stroke-width="1.3" stroke-linecap="butt"/>
<line x1="424.10" y1="425.45" x2="669.60" y2="425.45" stroke="#000" stroke-width="1.3" stroke-linecap="butt"/>
<polyline points="424.70,425.45 424.73,425.19 424.77,424.85 424.80,424.46 424.84,424.02 424.88,423.54 424.93,423.04 424.99,422.51 425.06,421.99 425.15,421.46 425.25,420.95 425.36,420.46 425.50,420.00 425.66,419.56 425.83,419.10 426.03,418.64 426.24,418.18 426.46,417.72 426.69,417.27 426.94,416.83 427.19,416.41 427.44,416.01 427.69,415.64 427.95,415.30 428.20,415.00 428.45,414.74 428.71,414.52 428.97,414.33 429.24,414.17 429.51,414.03 429.79,413.91 430.07,413.80 430.35,413.69 430.63,413.58 430.92,413.47 431.21,413.34 431.50,413.20 431.79,413.05 432.08,412.91 432.37,412.76 432.66,412.63 432.96,412.49 433.26,412.34 433.56,412.20 433.87,412.04 434.19,411.88 434.52,411.70 434.85,411.51 435.20,411.30 435.56,411.07 435.94,410.83 436.33,410.56 436.73,410.29 437.14,410.00 437.55,409.71 437.97,409.41 438.38,409.11 438.80,408.82 439.20,408.54 439.61,408.26 440.00,408.00 440.38,407.75 440.76,407.50 441.12,407.25 441.49,407.01 441.85,406.77 442.21,406.53 442.57,406.30 442.94,406.07 443.31,405.85 443.70,405.63 444.09,405.41 444.50,405.20 444.92,404.99 445.36,404.79 445.82,404.59 446.28,404.39 446.75,404.20 447.22,404.01 447.69,403.83 448.17,403.65 448.64,403.48 449.10,403.31 449.56,403.15 450.00,403.00 450.41,402.86 450.78,402.73 451.13,402.61 451.46,402.51 451.78,402.41 452.11,402.31 452.47,402.21 452.86,402.10 453.29,401.99 453.78,401.88 454.35,401.75 455.00,401.60 455.75,401.44 456.60,401.25 457.53,401.06 458.53,400.86 459.57,400.64 460.64,400.43 461.73,400.22 462.80,400.01 463.86,399.81 464.87,399.62 465.82,399.45 466.70,399.30 467.51,399.17 468.28,399.05 469.02,398.95 469.73,398.86 470.41,398.78 471.08,398.71 471.74,398.63 472.38,398.56 473.03,398.48 473.67,398.40 474.33,398.31 475.00,398.20 475.68,398.09 476.36,397.97 477.04,397.86 477.73,397.74 478.41,397.62 479.08,397.49 479.75,397.36 480.42,397.23 481.08,397.08 481.73,396.93 482.37,396.77 483.00,396.60 483.61,396.42 484.19,396.23 484.75,396.04 485.30,395.84 485.84,395.63 486.38,395.42 486.92,395.20 487.48,394.97 488.06,394.74 488.67,394.50 489.31,394.25 490.00,394.00 490.73,393.74 491.48,393.48 492.27,393.22 493.09,392.94 493.92,392.67 494.77,392.38 495.63,392.09 496.50,391.79 497.38,391.48 498.26,391.16 499.13,390.84 500.00,390.50 500.85,390.15 501.67,389.78 502.48,389.39 503.29,388.99 504.10,388.58 504.92,388.17 505.77,387.76 506.66,387.34 507.58,386.94 508.56,386.55 509.59,386.16 510.70,385.80 511.88,385.45 513.11,385.11 514.39,384.77 515.73,384.44 517.10,384.12 518.51,383.81 519.96,383.50 521.43,383.19 522.92,382.89 524.44,382.59 525.97,382.29 527.50,382.00 529.06,381.71 530.66,381.43 532.29,381.15 533.96,380.87 535.64,380.60 537.34,380.34 539.06,380.07 540.78,379.81 542.50,379.56 544.21,379.30 545.91,379.05 547.60,378.80 549.27,378.55 550.95,378.31 552.62,378.06 554.30,377.82 555.97,377.58 557.64,377.35 559.32,377.12 560.99,376.89 562.67,376.66 564.34,376.44 566.02,376.22 567.70,376.00 569.38,375.78 571.06,375.57 572.75,375.36 574.43,375.14 576.11,374.94 577.80,374.73 579.49,374.53 581.17,374.33 582.85,374.14 584.54,373.95 586.22,373.77 587.90,373.60 589.63,373.43 591.44,373.26 593.31,373.09 595.20,372.92 597.10,372.76 598.96,372.60 600.77,372.45 602.50,372.31 604.11,372.19 605.58,372.08 606.89,371.98 608.00,371.90 608.90,371.83 609.62,371.78 610.19,371.73 610.61,371.70 610.92,371.67 611.15,371.66 611.31,371.67 611.43,371.68 611.54,371.71 611.65,371.76 611.80,371.82 612.00,371.90 612.22,372.01 612.41,372.17 612.57,372.35 612.71,372.57 612.84,372.79 612.96,373.02 613.07,373.25 613.17,373.47 613.29,373.66 613.41,373.82 613.54,373.93 613.70,374.00 613.86,374.01 614.01,373.98 614.16,373.92 614.30,373.82 614.45,373.70 614.61,373.57 614.78,373.42 614.97,373.28 615.19,373.14 615.42,373.00 615.69,372.89 616.00,372.80 616.30,372.73 616.58,372.67 616.85,372.62 617.11,372.58 617.41,372.54 617.74,372.51 618.12,372.47 618.59,372.43 619.14,372.39 619.79,372.33 620.58,372.27 621.50,372.20 622.65,372.11 624.05,372.01 625.64,371.89 627.39,371.77 629.22,371.64 631.09,371.51 632.94,371.38 634.72,371.26 636.37,371.15 637.84,371.05 639.06,370.97 640.00,370.90" fill="none" stroke="#5B9BD5" stroke-width="2.2" stroke-linecap="round" stroke-linejoin="round"/>
<polyline points="424.70,425.45 424.76,425.21 424.83,424.90 424.91,424.55 425.00,424.14 425.10,423.71 425.21,423.24 425.33,422.77 425.45,422.29 425.58,421.81 425.72,421.34 425.86,420.91 426.00,420.50 426.15,420.12 426.31,419.75 426.48,419.39 426.66,419.03 426.85,418.68 427.04,418.33 427.23,417.99 427.43,417.64 427.62,417.29 427.82,416.93 428.01,416.57 428.20,416.20 428.39,415.83 428.57,415.45 428.75,415.07 428.94,414.70 429.12,414.32 429.31,413.93 429.49,413.54 429.69,413.15 429.88,412.75 430.08,412.34 430.29,411.92 430.50,411.50 430.72,411.06 430.93,410.59 431.15,410.11 431.38,409.62 431.61,409.12 431.84,408.62 432.08,408.12 432.32,407.64 432.58,407.17 432.84,406.72 433.11,406.29 433.40,405.90 433.70,405.54 434.01,405.20 434.34,404.89 434.68,404.59 435.02,404.31 435.38,404.04 435.73,403.78 436.09,403.52 436.45,403.27 436.80,403.02 437.15,402.76 437.50,402.50 437.84,402.24 438.17,401.98 438.49,401.73 438.82,401.48 439.14,401.24 439.47,400.99 439.80,400.75 440.14,400.51 440.48,400.26 440.84,400.01 441.21,399.76 441.60,399.50 442.01,399.23 442.43,398.96 442.87,398.68 443.31,398.40 443.77,398.12 444.24,397.83 444.71,397.55 445.17,397.27 445.64,396.99 446.10,396.72 446.56,396.45 447.00,396.20 447.42,395.96 447.82,395.73 448.20,395.52 448.57,395.31 448.93,395.10 449.31,394.90 449.69,394.69 450.10,394.48 450.54,394.26 451.01,394.02 451.53,393.77 452.10,393.50 452.72,393.21 453.38,392.90 454.07,392.57 454.80,392.23 455.56,391.88 456.34,391.53 457.14,391.17 457.97,390.80 458.81,390.44 459.66,390.09 460.53,389.74 461.40,389.40 462.30,389.06 463.23,388.72 464.20,388.38 465.19,388.03 466.20,387.69 467.21,387.35 468.23,387.02 469.24,386.69 470.25,386.37 471.23,386.07 472.18,385.78 473.10,385.50 473.98,385.24 474.84,385.00 475.68,384.78 476.50,384.57 477.30,384.37 478.10,384.17 478.90,383.98 479.69,383.80 480.50,383.61 481.31,383.41 482.15,383.21 483.00,383.00 483.83,382.79 484.61,382.58 485.36,382.38 486.09,382.17 486.83,381.97 487.60,381.76 488.41,381.55 489.30,381.33 490.27,381.09 491.34,380.84 492.55,380.58 493.90,380.30 495.42,379.99 497.09,379.66 498.89,379.31 500.80,378.94 502.80,378.57 504.86,378.18 506.97,377.79 509.10,377.41 511.23,377.04 513.34,376.67 515.40,376.32 517.40,376.00 519.36,375.69 521.32,375.39 523.27,375.10 525.23,374.81 527.19,374.54 529.15,374.27 531.11,374.01 533.07,373.75 535.02,373.50 536.98,373.26 538.94,373.03 540.90,372.80 542.86,372.58 544.82,372.37 546.77,372.17 548.73,371.97 550.69,371.79 552.65,371.61 554.61,371.43 556.57,371.26 558.52,371.09 560.48,370.93 562.44,370.76 564.40,370.60 566.34,370.44 568.26,370.28 570.16,370.12 572.06,369.97 573.95,369.82 575.85,369.68 577.77,369.53 579.71,369.40 581.69,369.26 583.71,369.14 585.77,369.02 587.90,368.90 590.18,368.79 592.67,368.68 595.30,368.58 598.03,368.48 600.78,368.38 603.52,368.29 606.17,368.21 608.69,368.13 611.00,368.06 613.07,368.00 614.82,367.95 616.20,367.90" fill="none" stroke="#C00000" stroke-width="3.3" stroke-dasharray="8.569,13.912" stroke-linecap="round" stroke-linejoin="round"/>
<line x1="448.40" y1="356.10" x2="489.90" y2="356.10" stroke="#5B9BD5" stroke-width="2.2" stroke-linecap="butt"/>
<line x1="595.00" y1="356.20" x2="604.70" y2="356.20" stroke="#C00000" stroke-width="3.0" stroke-linecap="round"/>
<line x1="617.50" y1="356.20" x2="627.30" y2="356.20" stroke="#C00000" stroke-width="3.0" stroke-linecap="round"/>
<text x="492.82" y="360.30" font-family="Liberation Sans" font-size="13.81" font-weight="normal" fill="#000" textLength="76.86" lengthAdjust="spacingAndGlyphs">Experimental</text>
<text x="639.68" y="360.30" font-family="Liberation Sans" font-size="13.23" font-weight="normal" fill="#000" textLength="37.02" lengthAdjust="spacingAndGlyphs">ANSYS</text>
<text x="520.55" y="416.40" font-family="Liberation Serif" font-size="13.90" font-weight="bold" fill="#000" textLength="87.36" lengthAdjust="spacingAndGlyphs">Deflction(mm)</text>
<text x="385.88" y="349.51" font-family="Liberation Sans" font-size="13.98" font-weight="bold" fill="#000" textLength="23.80" lengthAdjust="spacingAndGlyphs">400</text>
<text x="385.60" y="389.91" font-family="Liberation Sans" font-size="13.98" font-weight="bold" fill="#000" textLength="24.09" lengthAdjust="spacingAndGlyphs">200</text>
<text x="401.30" y="430.71" font-family="Liberation Sans" font-size="13.98" font-weight="bold" fill="#000" textLength="8.42" lengthAdjust="spacingAndGlyphs">0</text>
<text x="420.22" y="450.86" font-family="Liberation Sans" font-size="14.41" font-weight="bold" fill="#000" textLength="8.19" lengthAdjust="spacingAndGlyphs">0</text>
<text x="497.94" y="450.86" font-family="Liberation Sans" font-size="14.41" font-weight="bold" fill="#000" textLength="16.42" lengthAdjust="spacingAndGlyphs">20</text>
<text x="580.53" y="450.86" font-family="Liberation Sans" font-size="14.41" font-weight="bold" fill="#000" textLength="16.11" lengthAdjust="spacingAndGlyphs">40</text>
<text x="662.61" y="450.86" font-family="Liberation Sans" font-size="14.41" font-weight="bold" fill="#000" textLength="16.45" lengthAdjust="spacingAndGlyphs">60</text>
<text transform="translate(370.75,398.64) rotate(-90)" x="0" y="0" font-family="Liberation Serif" font-size="14.34" font-weight="bold" fill="#000" textLength="59.26" lengthAdjust="spacingAndGlyphs">Load(Kn)</text>
<text x="457.06" y="488.70" font-family="Liberation Serif" font-size="17.72" font-weight="normal" fill="#000" textLength="108.78" lengthAdjust="spacingAndGlyphs"><tspan font-weight="bold">(f)</tspan><tspan font-weight="normal"> Beam BH2</tspan></text>
<line x1="154.90" y1="521.00" x2="154.90" y2="589.40" stroke="#d9d9d9" stroke-width="1" stroke-dasharray="4.7,3.2" stroke-linecap="butt"/>
<line x1="236.80" y1="521.00" x2="236.80" y2="589.40" stroke="#d9d9d9" stroke-width="1" stroke-dasharray="4.7,3.2" stroke-linecap="butt"/>
<line x1="318.80" y1="521.00" x2="318.80" y2="589.40" stroke="#d9d9d9" stroke-width="1" stroke-dasharray="4.7,3.2" stroke-linecap="butt"/>
<line x1="72.70" y1="555.20" x2="318.80" y2="555.20" stroke="#d9d9d9" stroke-width="1" stroke-dasharray="4.7,3.2" stroke-linecap="butt"/>
<line x1="72.70" y1="521.00" x2="318.80" y2="521.00" stroke="#d9d9d9" stroke-width="1" stroke-dasharray="4.7,3.2" stroke-linecap="butt"/>
<line x1="72.70" y1="521.00" x2="72.70" y2="589.40" stroke="#000" stroke-width="1.3" stroke-linecap="butt"/>
<line x1="72.10" y1="589.40" x2="318.80" y2="589.40" stroke="#000" stroke-width="1.3" stroke-linecap="butt"/>
<polyline points="72.70,589.40 72.72,589.08 72.75,588.65 72.77,588.15 72.80,587.58 72.83,586.96 72.86,586.32 72.91,585.68 72.96,585.04 73.02,584.44 73.10,583.89 73.19,583.40 73.30,583.00 73.42,582.68 73.56,582.41 73.72,582.18 73.89,582.00 74.06,581.84 74.25,581.71 74.45,581.59 74.65,581.48 74.86,581.38 75.07,581.27 75.28,581.14 75.50,581.00 75.71,580.85 75.92,580.71 76.14,580.58 76.35,580.46 76.57,580.34 76.79,580.21 77.03,580.09 77.29,579.95 77.56,579.81 77.85,579.66 78.16,579.49 78.50,579.30 78.87,579.09 79.26,578.87 79.68,578.63 80.12,578.39 80.58,578.13 81.05,577.86 81.53,577.59 82.02,577.33 82.52,577.06 83.01,576.80 83.51,576.54 84.00,576.30 84.49,576.06 84.99,575.83 85.49,575.59 85.99,575.36 86.50,575.13 87.02,574.91 87.54,574.68 88.06,574.46 88.59,574.24 89.12,574.02 89.66,573.81 90.20,573.60 90.74,573.39 91.28,573.19 91.82,572.99 92.36,572.79 92.91,572.60 93.46,572.41 94.02,572.22 94.59,572.03 95.17,571.84 95.77,571.66 96.38,571.48 97.00,571.30 97.62,571.13 98.23,570.96 98.83,570.80 99.43,570.64 100.05,570.49 100.68,570.34 101.34,570.18 102.04,570.02 102.79,569.86 103.59,569.68 104.46,569.50 105.40,569.30 106.42,569.09 107.53,568.86 108.70,568.61 109.93,568.36 111.21,568.10 112.53,567.84 113.86,567.58 115.21,567.32 116.56,567.07 117.90,566.83 119.22,566.61 120.50,566.40 121.77,566.21 123.06,566.03 124.36,565.86 125.67,565.70 126.97,565.54 128.27,565.39 129.57,565.25 130.84,565.11 132.10,564.98 133.33,564.85 134.53,564.73 135.70,564.60 136.84,564.48 137.98,564.36 139.10,564.26 140.20,564.15 141.28,564.05 142.34,563.96 143.38,563.86 144.38,563.77 145.34,563.68 146.27,563.59 147.16,563.49 148.00,563.40 148.75,563.31 149.40,563.23 149.95,563.15 150.45,563.08 150.92,563.01 151.37,562.93 151.84,562.85 152.35,562.77 152.92,562.67 153.59,562.56 154.37,562.44 155.30,562.30 156.38,562.14 157.61,561.97 158.95,561.78 160.39,561.58 161.88,561.37 163.43,561.16 164.98,560.93 166.53,560.71 168.04,560.48 169.49,560.25 170.85,560.02 172.10,559.80 173.26,559.58 174.38,559.36 175.46,559.14 176.50,558.91 177.50,558.68 178.47,558.46 179.42,558.22 180.33,557.99 181.23,557.75 182.10,557.50 182.96,557.26 183.80,557.00 184.59,556.73 185.29,556.46 185.94,556.17 186.53,555.87 187.11,555.57 187.68,555.27 188.27,554.97 188.90,554.67 189.59,554.39 190.35,554.11 191.22,553.85 192.20,553.60 193.30,553.37 194.47,553.14 195.73,552.93 197.05,552.72 198.43,552.52 199.86,552.33 201.33,552.14 202.84,551.96 204.36,551.79 205.91,551.62 207.45,551.46 209.00,551.30 210.56,551.15 212.17,551.01 213.81,550.88 215.49,550.75 217.18,550.63 218.89,550.52 220.62,550.41 222.35,550.30 224.08,550.20 225.80,550.10 227.51,550.00 229.20,549.90 230.88,549.80 232.55,549.71 234.23,549.61 235.90,549.53 237.58,549.44 239.25,549.36 240.92,549.28 242.60,549.20 244.27,549.12 245.95,549.04 247.62,548.97 249.30,548.90 250.97,548.83 252.61,548.75 254.25,548.68 255.87,548.60 257.50,548.53 259.14,548.46 260.79,548.40 262.46,548.34 264.16,548.29 265.89,548.25 267.67,548.22 269.50,548.20 271.46,548.20 273.59,548.21 275.86,548.23 278.20,548.27 280.56,548.31 282.91,548.36 285.19,548.41 287.35,548.46 289.34,548.50 291.11,548.54 292.61,548.58 293.80,548.60" fill="none" stroke="#5B9BD5" stroke-width="2.2" stroke-linecap="round" stroke-linejoin="round"/>
<polyline points="72.70,589.40 72.76,589.18 72.83,588.91 72.92,588.58 73.01,588.21 73.11,587.81 73.23,587.39 73.34,586.96 73.47,586.53 73.60,586.10 73.73,585.70 73.86,585.33 74.00,585.00 74.14,584.70 74.29,584.40 74.45,584.11 74.62,583.84 74.79,583.57 74.96,583.31 75.14,583.07 75.31,582.83 75.49,582.60 75.66,582.39 75.83,582.19 76.00,582.00 76.15,581.83 76.30,581.70 76.43,581.59 76.56,581.50 76.69,581.42 76.82,581.35 76.96,581.27 77.11,581.19 77.27,581.08 77.46,580.95 77.66,580.80 77.90,580.60 78.16,580.36 78.45,580.10 78.76,579.80 79.08,579.48 79.42,579.15 79.78,578.80 80.14,578.45 80.51,578.10 80.88,577.75 81.26,577.41 81.63,577.10 82.00,576.80 82.35,576.53 82.69,576.27 83.01,576.02 83.33,575.78 83.65,575.54 83.99,575.31 84.34,575.08 84.73,574.84 85.15,574.60 85.61,574.35 86.12,574.08 86.70,573.80 87.34,573.50 88.03,573.17 88.77,572.84 89.55,572.49 90.37,572.13 91.21,571.77 92.08,571.42 92.97,571.07 93.88,570.72 94.79,570.40 95.70,570.09 96.60,569.80 97.52,569.53 98.46,569.28 99.43,569.04 100.41,568.81 101.41,568.60 102.41,568.39 103.42,568.18 104.42,567.99 105.42,567.79 106.40,567.59 107.36,567.40 108.30,567.20 109.21,567.00 110.11,566.81 110.98,566.61 111.84,566.43 112.70,566.24 113.55,566.06 114.40,565.88 115.26,565.70 116.12,565.52 116.99,565.34 117.89,565.17 118.80,565.00 119.73,564.83 120.69,564.66 121.65,564.50 122.63,564.34 123.62,564.18 124.61,564.02 125.61,563.86 126.60,563.71 127.59,563.55 128.57,563.40 129.54,563.25 130.50,563.10 131.46,562.95 132.43,562.80 133.41,562.65 134.40,562.50 135.38,562.35 136.34,562.21 137.30,562.06 138.23,561.92 139.13,561.79 139.99,561.65 140.82,561.52 141.60,561.40 142.29,561.29 142.85,561.19 143.33,561.10 143.75,561.01 144.14,560.94 144.54,560.86 144.96,560.77 145.45,560.69 146.03,560.59 146.72,560.48 147.57,560.35 148.60,560.20 149.82,560.03 151.19,559.85 152.70,559.66 154.33,559.45 156.04,559.24 157.82,559.01 159.65,558.78 161.51,558.55 163.36,558.31 165.19,558.07 166.98,557.84 168.70,557.60 170.38,557.36 172.06,557.12 173.75,556.87 175.43,556.62 177.11,556.36 178.80,556.11 180.49,555.85 182.17,555.59 183.85,555.34 185.54,555.09 187.22,554.84 188.90,554.60 190.58,554.36 192.25,554.12 193.93,553.89 195.60,553.65 197.28,553.42 198.95,553.19 200.62,552.96 202.30,552.74 203.97,552.52 205.65,552.31 207.32,552.10 209.00,551.90 210.68,551.71 212.36,551.52 214.05,551.33 215.73,551.16 217.41,550.98 219.10,550.81 220.79,550.65 222.47,550.49 224.15,550.33 225.84,550.18 227.52,550.04 229.20,549.90 230.87,549.77 232.52,549.64 234.17,549.53 235.81,549.41 237.45,549.31 239.09,549.21 240.74,549.11 242.40,549.01 244.09,548.91 245.79,548.81 247.53,548.71 249.30,548.60 251.18,548.49 253.21,548.37 255.34,548.24 257.54,548.12 259.76,547.99 261.96,547.87 264.08,547.75 266.09,547.64 267.94,547.53 269.59,547.44 270.99,547.36 272.10,547.30" fill="none" stroke="#C00000" stroke-width="3.3" stroke-dasharray="8.582,13.934" stroke-linecap="round" stroke-linejoin="round"/>
<line x1="75.30" y1="530.30" x2="116.60" y2="530.30" stroke="#5B9BD5" stroke-width="2.2" stroke-linecap="butt"/>
<line x1="224.50" y1="530.50" x2="234.20" y2="530.50" stroke="#C00000" stroke-width="3.0" stroke-linecap="round"/>
<line x1="246.90" y1="530.50" x2="257.00" y2="530.50" stroke="#C00000" stroke-width="3.0" stroke-linecap="round"/>
<text x="120.07" y="535.00" font-family="Liberation Sans" font-size="13.81" font-weight="bold" fill="#000" textLength="87.31" lengthAdjust="spacingAndGlyphs">Experimental</text>
<text x="268.99" y="535.10" font-family="Liberation Sans" font-size="14.24" font-weight="bold" fill="#000" textLength="42.90" lengthAdjust="spacingAndGlyphs">ANSYS</text>
<text x="212.36" y="580.00" font-family="Liberation Serif" font-size="12.83" font-weight="bold" fill="#000" textLength="86.66" lengthAdjust="spacingAndGlyphs">Deflction(mm)</text>
<text x="33.98" y="526.01" font-family="Liberation Sans" font-size="13.98" font-weight="bold" fill="#000" textLength="24.42" lengthAdjust="spacingAndGlyphs">400</text>
<text x="33.69" y="560.01" font-family="Liberation Sans" font-size="13.98" font-weight="bold" fill="#000" textLength="24.72" lengthAdjust="spacingAndGlyphs">200</text>
<text x="50.00" y="594.31" font-family="Liberation Sans" font-size="13.98" font-weight="bold" fill="#000" textLength="8.42" lengthAdjust="spacingAndGlyphs">0</text>
<text x="68.62" y="614.86" font-family="Liberation Sans" font-size="14.41" font-weight="bold" fill="#000" textLength="8.19" lengthAdjust="spacingAndGlyphs">0</text>
<text x="146.74" y="614.86" font-family="Liberation Sans" font-size="14.41" font-weight="bold" fill="#000" textLength="16.42" lengthAdjust="spacingAndGlyphs">20</text>
<text x="229.03" y="614.86" font-family="Liberation Sans" font-size="14.41" font-weight="bold" fill="#000" textLength="16.11" lengthAdjust="spacingAndGlyphs">40</text>
<text x="310.71" y="614.86" font-family="Liberation Sans" font-size="14.41" font-weight="bold" fill="#000" textLength="16.45" lengthAdjust="spacingAndGlyphs">60</text>
<text transform="translate(18.34,584.64) rotate(-90)" x="0" y="0" font-family="Liberation Serif" font-size="13.90" font-weight="bold" fill="#000" textLength="59.26" lengthAdjust="spacingAndGlyphs">Load(Kn)</text>
<circle cx="16.6" cy="504.9" r="0.7" fill="#555"/>
<text x="136.97" y="654.40" font-family="Liberation Serif" font-size="17.72" font-weight="normal" fill="#000" textLength="123.36" lengthAdjust="spacingAndGlyphs"><tspan font-weight="bold">(g</tspan><tspan font-weight="normal"> Beam</tspan><tspan font-weight="bold">)</tspan><tspan font-weight="normal"> BRH1</tspan></text>
<line x1="485.80" y1="532.00" x2="485.80" y2="592.30" stroke="#d9d9d9" stroke-width="1" stroke-dasharray="4.7,3.2" stroke-linecap="butt"/>
<line x1="549.30" y1="532.00" x2="549.30" y2="592.30" stroke="#d9d9d9" stroke-width="1" stroke-dasharray="4.7,3.2" stroke-linecap="butt"/>
<line x1="612.90" y1="532.00" x2="612.90" y2="592.30" stroke="#d9d9d9" stroke-width="1" stroke-dasharray="4.7,3.2" stroke-linecap="butt"/>
<line x1="676.40" y1="532.00" x2="676.40" y2="592.30" stroke="#d9d9d9" stroke-width="1" stroke-dasharray="4.7,3.2" stroke-linecap="butt"/>
<line x1="422.30" y1="532.00" x2="676.40" y2="532.00" stroke="#d9d9d9" stroke-width="1" stroke-dasharray="4.7,3.2" stroke-linecap="butt"/>
<line x1="422.30" y1="532.00" x2="422.30" y2="592.30" stroke="#000" stroke-width="1.3" stroke-linecap="butt"/>
<line x1="421.70" y1="592.30" x2="676.40" y2="592.30" stroke="#000" stroke-width="1.3" stroke-linecap="butt"/>
<polyline points="422.30,592.30 423.50,589.00 425.00,586.50 427.30,584.50 430.00,582.00 433.00,580.00 435.50,578.40 437.50,577.80 473.00,577.80 473.23,577.74 473.52,577.67 473.85,577.59 474.21,577.50 474.62,577.41 475.05,577.30 475.51,577.19 475.99,577.07 476.48,576.96 476.98,576.84 477.49,576.72 478.00,576.60 478.52,576.48 479.07,576.35 479.63,576.22 480.21,576.08 480.81,575.94 481.42,575.80 482.05,575.66 482.67,575.52 483.31,575.38 483.94,575.25 484.57,575.12 485.20,575.00 485.83,574.89 486.45,574.78 487.08,574.67 487.71,574.57 488.35,574.47 488.99,574.38 489.64,574.28 490.30,574.19 490.96,574.09 491.63,574.00 492.31,573.90 493.00,573.80 493.68,573.70 494.33,573.61 494.96,573.53 495.59,573.44 496.23,573.36 496.89,573.27 497.58,573.18 498.31,573.08 499.09,572.98 499.95,572.86 500.88,572.74 501.90,572.60 503.02,572.44 504.24,572.27 505.54,572.09 506.91,571.89 508.34,571.69 509.81,571.48 511.30,571.27 512.81,571.06 514.31,570.86 515.81,570.66 517.27,570.47 518.70,570.30 520.10,570.14 521.50,569.98 522.90,569.82 524.30,569.67 525.70,569.53 527.10,569.39 528.50,569.25 529.90,569.11 531.30,568.98 532.70,568.85 534.10,568.73 535.50,568.60 536.90,568.48 538.30,568.36 539.70,568.24 541.10,568.13 542.50,568.01 543.90,567.91 545.30,567.80 546.70,567.70 548.10,567.59 549.50,567.49 550.90,567.40 552.30,567.30 553.70,567.21 555.10,567.12 556.50,567.03 557.90,566.94 559.30,566.86 560.70,566.78 562.10,566.70 563.50,566.62 564.90,566.54 566.30,566.46 567.70,566.38 569.10,566.30 570.49,566.22 571.87,566.14 573.24,566.06 574.60,565.98 575.96,565.90 577.33,565.82 578.71,565.75 580.10,565.66 581.51,565.58 582.94,565.49 584.41,565.40 585.90,565.30 587.49,565.19 589.22,565.07 591.04,564.95 592.92,564.81 594.82,564.67 596.70,564.54 598.52,564.40 600.24,564.28 601.83,564.16 603.25,564.06 604.45,563.97 605.40,563.90" fill="none" stroke="#5B9BD5" stroke-width="2.2" stroke-linecap="round" stroke-linejoin="round"/>
<polyline points="422.30,592.30 422.38,592.09 422.47,591.83 422.57,591.52 422.68,591.17 422.81,590.80 422.94,590.40 423.09,589.99 423.25,589.57 423.42,589.15 423.60,588.75 423.80,588.36 424.00,588.00 424.21,587.65 424.44,587.31 424.68,586.96 424.93,586.61 425.19,586.27 425.46,585.93 425.74,585.59 426.04,585.26 426.34,584.94 426.65,584.62 426.97,584.30 427.30,584.00 427.64,583.70 427.99,583.41 428.35,583.12 428.72,582.84 429.10,582.56 429.49,582.29 429.89,582.02 430.29,581.76 430.71,581.51 431.13,581.27 431.56,581.03 432.00,580.80 432.44,580.58 432.86,580.38 433.28,580.20 433.71,580.02 434.14,579.85 434.59,579.69 435.05,579.52 435.55,579.36 436.07,579.18 436.64,579.00 437.24,578.81 437.90,578.60 438.61,578.38 439.38,578.14 440.19,577.89 441.04,577.63 441.92,577.37 442.82,577.10 443.75,576.83 444.69,576.57 445.62,576.31 446.56,576.06 447.49,575.82 448.40,575.60 449.30,575.39 450.22,575.19 451.14,574.99 452.06,574.80 452.99,574.62 453.92,574.44 454.85,574.27 455.79,574.10 456.72,573.92 457.65,573.75 458.58,573.58 459.50,573.40 460.42,573.22 461.34,573.04 462.25,572.86 463.17,572.69 464.09,572.51 465.00,572.33 465.91,572.16 466.83,571.98 467.75,571.81 468.66,571.64 469.58,571.47 470.50,571.30 471.42,571.13 472.34,570.97 473.27,570.80 474.19,570.63 475.12,570.47 476.04,570.31 476.97,570.15 477.90,569.99 478.82,569.84 479.75,569.69 480.67,569.54 481.60,569.40 482.52,569.26 483.43,569.13 484.34,569.01 485.24,568.89 486.15,568.77 487.06,568.65 487.97,568.54 488.89,568.43 489.82,568.32 490.76,568.21 491.72,568.10 492.70,568.00 493.67,567.90 494.63,567.81 495.57,567.73 496.51,567.64 497.46,567.57 498.43,567.49 499.44,567.41 500.48,567.32 501.58,567.23 502.74,567.13 503.98,567.02 505.30,566.90 506.71,566.76 508.19,566.62 509.74,566.46 511.35,566.30 513.01,566.13 514.72,565.96 516.46,565.78 518.24,565.60 520.04,565.42 521.85,565.24 523.68,565.07 525.50,564.90 527.35,564.73 529.27,564.56 531.22,564.38 533.21,564.20 535.23,564.02 537.26,563.84 539.28,563.66 541.30,563.49 543.29,563.33 545.24,563.18 547.15,563.03 549.00,562.90 550.82,562.78 552.63,562.67 554.44,562.56 556.23,562.47 558.00,562.38 559.74,562.29 561.44,562.22 563.09,562.14 564.69,562.08 566.23,562.01 567.70,561.96 569.10,561.90 570.45,561.85 571.77,561.81 573.05,561.77 574.29,561.74 575.48,561.71 576.61,561.69 577.66,561.67 578.64,561.65 579.53,561.64 580.33,561.62 581.02,561.61 581.60,561.60" fill="none" stroke="#C00000" stroke-width="3.3" stroke-dasharray="8.595,13.954" stroke-linecap="round" stroke-linejoin="round"/>
<line x1="446.40" y1="543.00" x2="487.60" y2="543.00" stroke="#5B9BD5" stroke-width="2.2" stroke-linecap="butt"/>
<line x1="596.80" y1="543.00" x2="606.50" y2="543.00" stroke="#C00000" stroke-width="3.0" stroke-linecap="round"/>
<line x1="619.20" y1="543.00" x2="629.10" y2="543.00" stroke="#C00000" stroke-width="3.0" stroke-linecap="round"/>
<text x="491.58" y="547.80" font-family="Liberation Sans" font-size="13.81" font-weight="bold" fill="#000" textLength="86.60" lengthAdjust="spacingAndGlyphs">Experimental</text>
<text x="641.29" y="547.60" font-family="Liberation Sans" font-size="13.52" font-weight="bold" fill="#000" textLength="42.39" lengthAdjust="spacingAndGlyphs">ANSYS</text>
<text x="535.55" y="589.10" font-family="Liberation Serif" font-size="13.44" font-weight="bold" fill="#000" textLength="87.06" lengthAdjust="spacingAndGlyphs">Deflction(mm)</text>
<text x="383.45" y="537.01" font-family="Liberation Sans" font-size="13.98" font-weight="bold" fill="#000" textLength="24.35" lengthAdjust="spacingAndGlyphs">500</text>
<text x="399.40" y="597.11" font-family="Liberation Sans" font-size="13.98" font-weight="bold" fill="#000" textLength="8.42" lengthAdjust="spacingAndGlyphs">0</text>
<text x="418.12" y="617.86" font-family="Liberation Sans" font-size="14.12" font-weight="bold" fill="#000" textLength="8.19" lengthAdjust="spacingAndGlyphs">0</text>
<text x="477.84" y="617.86" font-family="Liberation Sans" font-size="14.12" font-weight="bold" fill="#000" textLength="16.42" lengthAdjust="spacingAndGlyphs">20</text>
<text x="541.63" y="617.86" font-family="Liberation Sans" font-size="14.12" font-weight="bold" fill="#000" textLength="16.11" lengthAdjust="spacingAndGlyphs">40</text>
<text x="604.81" y="617.86" font-family="Liberation Sans" font-size="14.12" font-weight="bold" fill="#000" textLength="16.45" lengthAdjust="spacingAndGlyphs">60</text>
<text x="668.28" y="617.86" font-family="Liberation Sans" font-size="14.12" font-weight="bold" fill="#000" textLength="16.37" lengthAdjust="spacingAndGlyphs">80</text>
<text transform="translate(375.29,595.94) rotate(-90)" x="0" y="0" font-family="Liberation Serif" font-size="13.68" font-weight="bold" fill="#000" textLength="59.97" lengthAdjust="spacingAndGlyphs">Load(Kn)</text>
<text x="459.27" y="653.80" font-family="Liberation Serif" font-size="17.72" font-weight="normal" fill="#000" textLength="124.47" lengthAdjust="spacingAndGlyphs"><tspan font-weight="bold">(h)</tspan><tspan font-weight="normal"> Beam BRH2</tspan></text>
<line x1="143.80" y1="680.90" x2="143.80" y2="772.40" stroke="#d9d9d9" stroke-width="1" stroke-dasharray="4.7,3.2" stroke-linecap="butt"/>
<line x1="221.00" y1="680.90" x2="221.00" y2="772.40" stroke="#d9d9d9" stroke-width="1" stroke-dasharray="4.7,3.2" stroke-linecap="butt"/>
<line x1="298.20" y1="680.90" x2="298.20" y2="772.40" stroke="#d9d9d9" stroke-width="1" stroke-dasharray="4.7,3.2" stroke-linecap="butt"/>
<line x1="67.40" y1="711.20" x2="298.20" y2="711.20" stroke="#d9d9d9" stroke-width="1" stroke-dasharray="4.7,3.2" stroke-linecap="butt"/>
<line x1="67.40" y1="741.50" x2="298.20" y2="741.50" stroke="#d9d9d9" stroke-width="1" stroke-dasharray="4.7,3.2" stroke-linecap="butt"/>
<line x1="67.40" y1="680.90" x2="67.40" y2="772.40" stroke="#000" stroke-width="1.3" stroke-linecap="butt"/>
<line x1="66.80" y1="772.40" x2="298.20" y2="772.40" stroke="#000" stroke-width="1.3" stroke-linecap="butt"/>
<line x1="67.40" y1="680.90" x2="298.20" y2="680.90" stroke="#d9d9d9" stroke-width="1.2" stroke-linecap="butt"/>
<line x1="298.20" y1="680.90" x2="298.20" y2="772.00" stroke="#d9d9d9" stroke-width="1.2" stroke-linecap="butt"/>
<line x1="67.40" y1="680.90" x2="67.40" y2="772.40" stroke="#000" stroke-width="1.3" stroke-linecap="butt"/>
<line x1="66.80" y1="772.40" x2="298.20" y2="772.40" stroke="#000" stroke-width="1.3" stroke-linecap="butt"/>
<polyline points="67.40,772.40 67.40,760.00 68.50,757.50 68.59,757.41 68.69,757.32 68.80,757.20 68.93,757.08 69.07,756.94 69.23,756.79 69.40,756.62 69.59,756.44 69.81,756.25 70.05,756.05 70.31,755.83 70.60,755.60 70.93,755.35 71.29,755.08 71.69,754.78 72.12,754.47 72.57,754.15 73.04,753.82 73.51,753.48 73.99,753.14 74.46,752.79 74.93,752.46 75.37,752.12 75.80,751.80 76.21,751.48 76.61,751.17 77.01,750.85 77.40,750.53 77.79,750.22 78.18,749.90 78.57,749.58 78.95,749.27 79.34,748.95 79.72,748.63 80.11,748.32 80.50,748.00 80.88,747.69 81.23,747.38 81.57,747.08 81.90,746.77 82.23,746.47 82.56,746.17 82.92,745.86 83.29,745.55 83.70,745.23 84.15,744.90 84.65,744.56 85.20,744.20 85.81,743.83 86.48,743.43 87.20,743.02 87.96,742.60 88.74,742.17 89.56,741.73 90.38,741.30 91.22,740.87 92.06,740.45 92.89,740.05 93.71,739.66 94.50,739.30 95.27,738.96 96.03,738.64 96.79,738.33 97.54,738.03 98.29,737.74 99.05,737.46 99.82,737.19 100.59,736.91 101.39,736.64 102.20,736.37 103.04,736.09 103.90,735.80 104.79,735.51 105.72,735.21 106.67,734.91 107.63,734.61 108.62,734.32 109.61,734.02 110.62,733.72 111.62,733.43 112.63,733.14 113.63,732.85 114.62,732.57 115.60,732.30 116.56,732.03 117.49,731.77 118.41,731.52 119.32,731.27 120.23,731.02 121.14,730.77 122.07,730.53 123.03,730.29 124.01,730.05 125.02,729.80 126.09,729.55 127.20,729.30 128.39,729.04 129.67,728.77 131.01,728.50 132.41,728.23 133.83,727.95 135.26,727.67 136.69,727.40 138.08,727.14 139.43,726.89 140.71,726.64 141.91,726.41 143.00,726.20 143.98,726.01 144.86,725.84 145.66,725.69 146.40,725.55 147.10,725.42 147.76,725.30 148.40,725.18 149.05,725.05 149.72,724.91 150.42,724.76 151.18,724.59 152.00,724.40 152.89,724.19 153.81,723.97 154.77,723.74 155.76,723.51 156.76,723.26 157.78,723.01 158.80,722.74 159.82,722.47 160.82,722.19 161.81,721.90 162.77,721.60 163.70,721.30 164.61,720.99 165.52,720.67 166.42,720.34 167.31,720.01 168.19,719.66 169.06,719.31 169.91,718.95 170.74,718.58 171.55,718.20 172.33,717.81 173.08,717.41 173.80,717.00 174.45,716.57 175.00,716.12 175.48,715.64 175.91,715.16 176.32,714.66 176.73,714.16 177.16,713.65 177.64,713.16 178.19,712.67 178.84,712.19 179.60,711.73 180.50,711.30 181.55,710.88 182.72,710.47 183.99,710.07 185.35,709.67 186.78,709.29 188.27,708.91 189.79,708.55 191.33,708.19 192.86,707.85 194.38,707.52 195.87,707.20 197.30,706.90 198.70,706.61 200.10,706.35 201.50,706.10 202.90,705.86 204.30,705.63 205.70,705.42 207.10,705.21 208.50,705.01 209.90,704.81 211.30,704.61 212.70,704.41 214.10,704.20 215.49,703.99 216.86,703.79 218.22,703.58 219.58,703.38 220.93,703.18 222.29,702.99 223.67,702.80 225.06,702.61 226.47,702.42 227.91,702.24 229.38,702.07 230.90,701.90 232.45,701.73 234.03,701.57 235.63,701.40 237.26,701.24 238.90,701.08 240.58,700.92 242.27,700.78 243.98,700.64 245.71,700.51 247.46,700.40 249.22,700.29 251.00,700.20 252.88,700.13 254.91,700.07 257.04,700.02 259.24,699.99 261.46,699.96 263.66,699.94 265.78,699.93 267.79,699.93 269.64,699.92 271.29,699.92 272.69,699.91 273.80,699.90" fill="none" stroke="#5B9BD5" stroke-width="2.4" stroke-linecap="round" stroke-linejoin="round"/>
<polyline points="67.40,772.40 67.44,772.21 67.48,771.97 67.53,771.69 67.59,771.37 67.65,771.03 67.72,770.67 67.79,770.29 67.87,769.91 67.95,769.54 68.03,769.17 68.11,768.82 68.20,768.50 68.29,768.19 68.39,767.88 68.49,767.56 68.60,767.25 68.72,766.94 68.83,766.63 68.95,766.33 69.06,766.04 69.18,765.76 69.29,765.49 69.40,765.24 69.50,765.00 69.59,764.79 69.67,764.61 69.74,764.45 69.80,764.31 69.86,764.19 69.92,764.06 69.99,763.93 70.07,763.80 70.17,763.64 70.29,763.46 70.43,763.25 70.60,763.00 70.80,762.71 71.01,762.40 71.24,762.05 71.49,761.69 71.76,761.31 72.04,760.91 72.33,760.51 72.64,760.10 72.96,759.69 73.30,759.28 73.64,758.89 74.00,758.50 74.37,758.12 74.74,757.75 75.12,757.38 75.52,757.01 75.93,756.64 76.35,756.26 76.79,755.89 77.25,755.50 77.73,755.12 78.23,754.72 78.75,754.32 79.30,753.90 79.87,753.48 80.47,753.04 81.09,752.60 81.73,752.16 82.39,751.70 83.07,751.24 83.77,750.78 84.49,750.31 85.22,749.84 85.97,749.36 86.73,748.88 87.50,748.40 88.30,747.91 89.13,747.40 89.99,746.88 90.87,746.35 91.77,745.81 92.67,745.28 93.59,744.75 94.50,744.23 95.40,743.72 96.29,743.23 97.16,742.75 98.00,742.30 98.82,741.88 99.61,741.48 100.39,741.11 101.15,740.76 101.91,740.41 102.66,740.07 103.42,739.74 104.18,739.40 104.96,739.05 105.75,738.69 106.56,738.31 107.40,737.90 108.27,737.46 109.17,737.00 110.10,736.51 111.04,736.00 112.00,735.49 112.96,734.97 113.92,734.46 114.87,733.96 115.81,733.48 116.73,733.02 117.63,732.59 118.50,732.20 119.33,731.85 120.12,731.53 120.88,731.23 121.62,730.96 122.35,730.71 123.07,730.47 123.80,730.24 124.54,730.00 125.30,729.77 126.09,729.53 126.92,729.27 127.80,729.00 128.71,728.72 129.64,728.43 130.58,728.14 131.54,727.85 132.52,727.55 133.53,727.26 134.56,726.96 135.63,726.65 136.72,726.34 137.84,726.03 139.00,725.72 140.20,725.40 141.45,725.08 142.75,724.75 144.09,724.41 145.47,724.08 146.89,723.74 148.32,723.39 149.78,723.05 151.24,722.70 152.70,722.35 154.15,722.00 155.59,721.65 157.00,721.30 158.40,720.95 159.80,720.60 161.20,720.26 162.60,719.91 164.00,719.56 165.40,719.21 166.80,718.86 168.20,718.50 169.60,718.14 171.00,717.77 172.40,717.39 173.80,717.00 175.20,716.60 176.60,716.18 178.00,715.74 179.40,715.29 180.80,714.84 182.20,714.39 183.60,713.94 185.00,713.50 186.40,713.07 187.80,712.66 189.20,712.26 190.60,711.90 191.99,711.56 193.36,711.25 194.72,710.95 196.08,710.67 197.43,710.40 198.79,710.14 200.17,709.89 201.56,709.64 202.97,709.39 204.41,709.13 205.88,708.87 207.40,708.60 208.94,708.32 210.49,708.05 212.06,707.77 213.64,707.50 215.25,707.22 216.89,706.94 218.55,706.66 220.26,706.38 222.00,706.09 223.78,705.80 225.61,705.50 227.50,705.20 229.53,704.87 231.77,704.52 234.15,704.15 236.63,703.76 239.15,703.37 241.66,702.99 244.09,702.61 246.40,702.26 248.53,701.93 250.43,701.64 252.04,701.40 253.30,701.20" fill="none" stroke="#C00000" stroke-width="3.3" stroke-dasharray="8.594,13.953" stroke-linecap="round" stroke-linejoin="round"/>
<line x1="97.20" y1="683.20" x2="138.00" y2="683.20" stroke="#5B9BD5" stroke-width="2.5" stroke-linecap="butt"/>
<line x1="97.70" y1="707.30" x2="107.80" y2="707.30" stroke="#C00000" stroke-width="3.2" stroke-linecap="round"/>
<line x1="120.20" y1="707.30" x2="130.30" y2="707.30" stroke="#C00000" stroke-width="3.2" stroke-linecap="round"/>
<text x="141.86" y="687.70" font-family="Liberation Sans" font-size="13.37" font-weight="bold" fill="#000" textLength="78.83" lengthAdjust="spacingAndGlyphs">Experimental</text>
<text x="142.43" y="711.20" font-family="Liberation Sans" font-size="12.50" font-weight="bold" fill="#000" textLength="37.90" lengthAdjust="spacingAndGlyphs">ANSYS</text>
<text x="159.85" y="764.60" font-family="Liberation Serif" font-size="13.90" font-weight="bold" fill="#000" textLength="86.96" lengthAdjust="spacingAndGlyphs">Deflction(mm)</text>
<text x="28.34" y="685.26" font-family="Liberation Sans" font-size="13.84" font-weight="normal" fill="#000" textLength="24.43" lengthAdjust="spacingAndGlyphs">300</text>
<text x="28.16" y="715.96" font-family="Liberation Sans" font-size="13.84" font-weight="normal" fill="#000" textLength="24.62" lengthAdjust="spacingAndGlyphs">200</text>
<text x="27.76" y="746.16" font-family="Liberation Sans" font-size="13.84" font-weight="normal" fill="#000" textLength="25.03" lengthAdjust="spacingAndGlyphs">100</text>
<text x="44.63" y="776.76" font-family="Liberation Sans" font-size="13.84" font-weight="normal" fill="#000" textLength="8.14" lengthAdjust="spacingAndGlyphs">0</text>
<text x="63.32" y="798.45" font-family="Liberation Sans" font-size="14.97" font-weight="bold" fill="#000" textLength="8.19" lengthAdjust="spacingAndGlyphs">0</text>
<text x="136.04" y="798.45" font-family="Liberation Sans" font-size="14.97" font-weight="bold" fill="#000" textLength="16.42" lengthAdjust="spacingAndGlyphs">20</text>
<text x="213.33" y="798.45" font-family="Liberation Sans" font-size="14.97" font-weight="bold" fill="#000" textLength="16.11" lengthAdjust="spacingAndGlyphs">40</text>
<text x="290.01" y="798.45" font-family="Liberation Sans" font-size="14.97" font-weight="bold" fill="#000" textLength="16.45" lengthAdjust="spacingAndGlyphs">60</text>
<text transform="translate(19.14,755.64) rotate(-90)" x="0" y="0" font-family="Liberation Serif" font-size="13.90" font-weight="bold" fill="#000" textLength="59.26" lengthAdjust="spacingAndGlyphs">Load(Kn)</text>
<text x="108.98" y="842.80" font-family="Liberation Serif" font-size="17.72" font-weight="normal" fill="#000" textLength="127.18" lengthAdjust="spacingAndGlyphs"><tspan font-weight="bold">(i)</tspan><tspan font-weight="normal"> Beam BRH3a</tspan></text>
<line x1="473.10" y1="684.40" x2="473.10" y2="776.50" stroke="#d9d9d9" stroke-width="1" stroke-dasharray="4.7,3.2" stroke-linecap="butt"/>
<line x1="522.70" y1="684.40" x2="522.70" y2="776.50" stroke="#d9d9d9" stroke-width="1" stroke-dasharray="4.7,3.2" stroke-linecap="butt"/>
<line x1="572.30" y1="684.40" x2="572.30" y2="776.50" stroke="#d9d9d9" stroke-width="1" stroke-dasharray="4.7,3.2" stroke-linecap="butt"/>
<line x1="621.90" y1="684.40" x2="621.90" y2="776.50" stroke="#d9d9d9" stroke-width="1" stroke-dasharray="4.7,3.2" stroke-linecap="butt"/>
<line x1="671.40" y1="684.40" x2="671.40" y2="776.50" stroke="#d9d9d9" stroke-width="1" stroke-dasharray="4.7,3.2" stroke-linecap="butt"/>
<line x1="423.50" y1="715.20" x2="671.40" y2="715.20" stroke="#d9d9d9" stroke-width="1" stroke-dasharray="4.7,3.2" stroke-linecap="butt"/>
<line x1="423.50" y1="745.70" x2="671.40" y2="745.70" stroke="#d9d9d9" stroke-width="1" stroke-dasharray="4.7,3.2" stroke-linecap="butt"/>
<line x1="423.50" y1="684.40" x2="671.40" y2="684.40" stroke="#d9d9d9" stroke-width="1" stroke-dasharray="4.7,3.2" stroke-linecap="butt"/>
<line x1="423.50" y1="684.40" x2="423.50" y2="776.50" stroke="#000" stroke-width="1.3" stroke-linecap="butt"/>
<line x1="422.90" y1="776.50" x2="671.40" y2="776.50" stroke="#000" stroke-width="1.3" stroke-linecap="butt"/>
<polyline points="423.50,776.50 423.52,776.18 423.55,775.79 423.59,775.32 423.62,774.80 423.66,774.23 423.71,773.62 423.75,773.00 423.80,772.37 423.85,771.74 423.90,771.13 423.95,770.54 424.00,770.00 424.05,769.48 424.09,768.95 424.12,768.42 424.16,767.89 424.20,767.36 424.24,766.84 424.28,766.33 424.34,765.83 424.41,765.35 424.49,764.88 424.59,764.43 424.70,764.00 424.83,763.60 424.96,763.21 425.11,762.85 425.26,762.50 425.42,762.17 425.60,761.84 425.79,761.53 426.00,761.22 426.22,760.92 426.46,760.61 426.72,760.31 427.00,760.00 427.31,759.69 427.64,759.38 428.01,759.08 428.39,758.77 428.79,758.48 429.20,758.18 429.62,757.89 430.04,757.60 430.47,757.32 430.89,757.04 431.30,756.77 431.70,756.50 432.08,756.25 432.44,756.02 432.80,755.80 433.14,755.60 433.49,755.40 433.84,755.19 434.20,754.98 434.58,754.76 434.99,754.51 435.42,754.24 435.89,753.94 436.40,753.60 436.96,753.21 437.55,752.78 438.18,752.31 438.84,751.82 439.53,751.30 440.23,750.77 440.95,750.24 441.67,749.71 442.39,749.20 443.10,748.70 443.81,748.23 444.50,747.80 445.17,747.40 445.81,747.01 446.44,746.64 447.06,746.29 447.68,745.94 448.31,745.61 448.95,745.28 449.62,744.96 450.32,744.64 451.07,744.33 451.86,744.02 452.70,743.70 453.61,743.38 454.59,743.07 455.63,742.76 456.71,742.45 457.82,742.14 458.96,741.84 460.10,741.55 461.23,741.26 462.35,740.98 463.45,740.71 464.50,740.45 465.50,740.20 466.47,739.96 467.42,739.75 468.37,739.55 469.30,739.36 470.21,739.18 471.11,739.00 471.98,738.82 472.84,738.64 473.67,738.45 474.47,738.25 475.25,738.04 476.00,737.80 476.71,737.55 477.38,737.28 478.02,737.00 478.63,736.71 479.21,736.42 479.77,736.12 480.33,735.81 480.87,735.51 481.42,735.20 481.97,734.90 482.53,734.60 483.10,734.30 483.67,734.01 484.23,733.72 484.77,733.42 485.30,733.13 485.83,732.84 486.37,732.55 486.92,732.26 487.48,731.97 488.06,731.67 488.67,731.38 489.32,731.09 490.00,730.80 490.74,730.50 491.55,730.20 492.40,729.88 493.29,729.57 494.20,729.25 495.12,728.94 496.03,728.63 496.92,728.33 497.78,728.05 498.59,727.78 499.33,727.53 500.00,727.30 500.57,727.10 501.03,726.91 501.41,726.75 501.74,726.60 502.03,726.47 502.31,726.34 502.60,726.22 502.92,726.11 503.30,725.99 503.76,725.87 504.32,725.74 505.00,725.60 505.79,725.46 506.66,725.34 507.60,725.22 508.60,725.11 509.66,725.00 510.77,724.88 511.92,724.75 513.11,724.61 514.33,724.45 515.57,724.26 516.83,724.05 518.10,723.80 519.40,723.51 520.76,723.17 522.17,722.80 523.61,722.41 525.08,721.99 526.58,721.56 528.09,721.13 529.60,720.70 531.12,720.29 532.63,719.89 534.13,719.53 535.60,719.20 537.06,718.90 538.52,718.63 539.97,718.38 541.43,718.14 542.89,717.92 544.34,717.71 545.80,717.50 547.26,717.29 548.72,717.08 550.18,716.86 551.64,716.64 553.10,716.40 554.56,716.15 556.03,715.91 557.50,715.66 558.96,715.40 560.43,715.15 561.90,714.89 563.37,714.64 564.84,714.37 566.30,714.11 567.77,713.84 569.24,713.57 570.70,713.30 572.16,713.02 573.62,712.73 575.08,712.43 576.54,712.13 578.00,711.82 579.46,711.51 580.91,711.21 582.37,710.91 583.83,710.61 585.28,710.33 586.74,710.06 588.20,709.80 589.66,709.56 591.14,709.32 592.61,709.10 594.10,708.88 595.58,708.67 597.06,708.46 598.53,708.26 599.99,708.07 601.44,707.87 602.88,707.68 604.30,707.49 605.70,707.30 607.13,707.10 608.61,706.90 610.14,706.70 611.68,706.49 613.20,706.29 614.69,706.09 616.12,705.91 617.47,705.73 618.70,705.57 619.80,705.42 620.74,705.30 621.50,705.20" fill="none" stroke="#5B9BD5" stroke-width="2.5" stroke-linecap="round" stroke-linejoin="round"/>
<polyline points="423.50,776.50 423.57,776.28 423.65,776.00 423.74,775.67 423.85,775.31 423.96,774.91 424.09,774.49 424.22,774.05 424.36,773.61 424.51,773.18 424.67,772.76 424.83,772.36 425.00,772.00 425.18,771.66 425.36,771.34 425.55,771.03 425.76,770.73 425.96,770.44 426.18,770.14 426.40,769.85 426.63,769.54 426.87,769.23 427.11,768.91 427.35,768.56 427.60,768.20 427.85,767.81 428.11,767.41 428.38,766.99 428.64,766.55 428.92,766.11 429.20,765.66 429.49,765.20 429.78,764.75 430.08,764.30 430.38,763.85 430.69,763.42 431.00,763.00 431.32,762.59 431.66,762.17 432.00,761.76 432.36,761.34 432.71,760.94 433.07,760.53 433.44,760.13 433.80,759.74 434.16,759.36 434.51,759.00 434.86,758.64 435.20,758.30 435.53,757.98 435.85,757.67 436.16,757.37 436.47,757.09 436.78,756.82 437.09,756.55 437.39,756.29 437.70,756.03 438.02,755.78 438.34,755.52 438.66,755.26 439.00,755.00 439.33,754.75 439.63,754.51 439.91,754.29 440.20,754.08 440.48,753.87 440.78,753.65 441.10,753.42 441.46,753.18 441.86,752.91 442.31,752.61 442.82,752.28 443.40,751.90 444.07,751.47 444.81,750.99 445.62,750.47 446.49,749.91 447.40,749.34 448.34,748.74 449.30,748.15 450.26,747.55 451.22,746.97 452.15,746.41 453.05,745.89 453.90,745.40 454.71,744.95 455.50,744.52 456.27,744.10 457.02,743.71 457.77,743.32 458.51,742.95 459.26,742.59 460.01,742.23 460.78,741.87 461.56,741.52 462.37,741.16 463.20,740.80 464.07,740.44 464.96,740.08 465.88,739.73 466.81,739.37 467.76,739.03 468.71,738.68 469.67,738.34 470.62,738.00 471.57,737.67 472.50,737.34 473.41,737.02 474.30,736.70 475.16,736.39 476.00,736.08 476.82,735.77 477.62,735.47 478.42,735.17 479.21,734.88 480.01,734.59 480.81,734.31 481.63,734.03 482.46,733.75 483.32,733.47 484.20,733.20 485.13,732.93 486.13,732.65 487.16,732.37 488.23,732.09 489.30,731.82 490.37,731.55 491.43,731.29 492.45,731.04 493.42,730.80 494.33,730.58 495.16,730.38 495.90,730.20 496.50,730.05 496.94,729.94 497.27,729.87 497.51,729.81 497.71,729.77 497.89,729.73 498.09,729.69 498.34,729.63 498.69,729.56 499.16,729.45 499.78,729.30 500.60,729.10 501.60,728.85 502.74,728.57 503.99,728.25 505.36,727.91 506.81,727.55 508.33,727.16 509.91,726.77 511.53,726.37 513.18,725.96 514.83,725.57 516.48,725.18 518.10,724.80 519.73,724.43 521.40,724.06 523.10,723.69 524.84,723.32 526.60,722.94 528.38,722.57 530.17,722.19 531.96,721.81 533.76,721.44 535.55,721.06 537.34,720.68 539.10,720.30 540.86,719.92 542.61,719.53 544.37,719.15 546.13,718.76 547.89,718.37 549.65,717.98 551.41,717.59 553.17,717.21 554.93,716.82 556.69,716.44 558.44,716.07 560.20,715.70 561.95,715.33 563.71,714.97 565.46,714.61 567.21,714.24 568.96,713.89 570.71,713.53 572.46,713.18 574.20,712.83 575.95,712.49 577.70,712.15 579.45,711.82 581.20,711.50 582.95,711.18 584.70,710.88 586.45,710.58 588.20,710.28 589.95,709.99 591.70,709.71 593.45,709.42 595.20,709.14 596.95,708.86 598.70,708.58 600.45,708.29 602.20,708.00 603.92,707.71 605.60,707.41 607.25,707.12 608.89,706.83 610.52,706.53 612.17,706.24 613.85,705.94 615.57,705.65 617.35,705.36 619.21,705.07 621.15,704.78 623.20,704.50 625.45,704.21 627.97,703.90 630.67,703.58 633.50,703.26 636.38,702.94 639.26,702.63 642.07,702.33 644.74,702.05 647.20,701.79 649.39,701.56 651.25,701.36 652.70,701.20" fill="none" stroke="#C00000" stroke-width="3.3" stroke-dasharray="8.119,14.389" stroke-linecap="round" stroke-linejoin="round"/>
<line x1="484.10" y1="685.20" x2="526.00" y2="685.20" stroke="#5B9BD5" stroke-width="2.5" stroke-linecap="butt"/>
<line x1="485.30" y1="702.20" x2="493.70" y2="702.20" stroke="#C00000" stroke-width="3.2" stroke-linecap="round"/>
<line x1="507.10" y1="702.20" x2="517.20" y2="702.20" stroke="#C00000" stroke-width="3.2" stroke-linecap="round"/>
<text x="529.86" y="690.70" font-family="Liberation Serif" font-size="14.66" font-weight="bold" fill="#000" textLength="81.58" lengthAdjust="spacingAndGlyphs">Experimental</text>
<text x="529.96" y="706.70" font-family="Liberation Serif" font-size="14.05" font-weight="bold" fill="#000" textLength="45.63" lengthAdjust="spacingAndGlyphs">ANSYS</text>
<text x="512.05" y="768.90" font-family="Liberation Serif" font-size="14.05" font-weight="bold" fill="#000" textLength="86.96" lengthAdjust="spacingAndGlyphs">Deflction(mm)</text>
<text x="389.65" y="689.22" font-family="Liberation Serif" font-size="13.19" font-weight="bold" fill="#000" textLength="22.12" lengthAdjust="spacingAndGlyphs">300</text>
<text x="389.58" y="719.52" font-family="Liberation Serif" font-size="13.19" font-weight="bold" fill="#000" textLength="22.18" lengthAdjust="spacingAndGlyphs">200</text>
<text x="388.98" y="750.02" font-family="Liberation Serif" font-size="13.19" font-weight="bold" fill="#000" textLength="22.80" lengthAdjust="spacingAndGlyphs">100</text>
<text x="404.33" y="780.92" font-family="Liberation Serif" font-size="13.19" font-weight="bold" fill="#000" textLength="7.43" lengthAdjust="spacingAndGlyphs">0</text>
<text x="419.72" y="798.45" font-family="Liberation Serif" font-size="15.12" font-weight="bold" fill="#000" textLength="7.55" lengthAdjust="spacingAndGlyphs">0</text>
<text x="465.21" y="798.45" font-family="Liberation Serif" font-size="15.12" font-weight="bold" fill="#000" textLength="15.54" lengthAdjust="spacingAndGlyphs">10</text>
<text x="515.22" y="798.45" font-family="Liberation Serif" font-size="15.12" font-weight="bold" fill="#000" textLength="14.89" lengthAdjust="spacingAndGlyphs">20</text>
<text x="565.09" y="798.45" font-family="Liberation Serif" font-size="15.12" font-weight="bold" fill="#000" textLength="14.82" lengthAdjust="spacingAndGlyphs">30</text>
<text x="614.45" y="798.45" font-family="Liberation Serif" font-size="15.12" font-weight="bold" fill="#000" textLength="14.45" lengthAdjust="spacingAndGlyphs">40</text>
<text x="663.85" y="798.45" font-family="Liberation Serif" font-size="15.12" font-weight="bold" fill="#000" textLength="14.86" lengthAdjust="spacingAndGlyphs">50</text>
<text transform="translate(380.01,748.37) rotate(-90)" x="0" y="0" font-family="Liberation Serif" font-size="15.44" font-weight="bold" fill="#000" textLength="65.55" lengthAdjust="spacingAndGlyphs">Load(Kn)</text>
<text x="490.68" y="842.80" font-family="Liberation Serif" font-size="17.72" font-weight="normal" fill="#000" textLength="119.31" lengthAdjust="spacingAndGlyphs"><tspan font-weight="bold">(j)</tspan><tspan font-weight="normal"> Beam BRH4</tspan></text>
<line x1="169.80" y1="870.20" x2="169.80" y2="976.20" stroke="#d9d9d9" stroke-width="1" stroke-dasharray="4.7,3.2" stroke-linecap="butt"/>
<line x1="254.20" y1="870.20" x2="254.20" y2="976.20" stroke="#d9d9d9" stroke-width="1" stroke-dasharray="4.7,3.2" stroke-linecap="butt"/>
<line x1="338.90" y1="870.20" x2="338.90" y2="976.20" stroke="#d9d9d9" stroke-width="1" stroke-dasharray="4.7,3.2" stroke-linecap="butt"/>
<line x1="85.00" y1="905.50" x2="338.90" y2="905.50" stroke="#d9d9d9" stroke-width="1" stroke-dasharray="4.7,3.2" stroke-linecap="butt"/>
<line x1="85.00" y1="940.80" x2="338.90" y2="940.80" stroke="#d9d9d9" stroke-width="1" stroke-dasharray="4.7,3.2" stroke-linecap="butt"/>
<line x1="85.00" y1="870.20" x2="338.90" y2="870.20" stroke="#d9d9d9" stroke-width="1" stroke-dasharray="4.7,3.2" stroke-linecap="butt"/>
<line x1="85.00" y1="870.20" x2="85.00" y2="976.20" stroke="#1a1a1a" stroke-width="1.3" stroke-linecap="butt"/>
<line x1="84.40" y1="976.20" x2="338.90" y2="976.20" stroke="#1a1a1a" stroke-width="1.3" stroke-linecap="butt"/>
<line x1="85.00" y1="870.20" x2="85.00" y2="976.20" stroke="#595959" stroke-width="1.4" stroke-linecap="butt"/>
<polyline points="85.00,976.50 85.00,960.70 85.15,960.36 85.33,959.93 85.53,959.41 85.76,958.83 86.01,958.21 86.28,957.55 86.58,956.88 86.90,956.21 87.24,955.56 87.60,954.95 87.99,954.39 88.40,953.90 88.84,953.48 89.31,953.10 89.80,952.77 90.33,952.46 90.87,952.17 91.44,951.89 92.02,951.62 92.62,951.33 93.23,951.02 93.85,950.69 94.47,950.32 95.10,949.90 95.74,949.43 96.38,948.91 97.04,948.36 97.71,947.78 98.39,947.18 99.09,946.58 99.79,945.97 100.51,945.36 101.24,944.78 101.98,944.21 102.74,943.69 103.50,943.20 104.26,942.75 105.01,942.34 105.75,941.95 106.49,941.59 107.25,941.23 108.02,940.89 108.83,940.56 109.67,940.23 110.56,939.89 111.51,939.54 112.52,939.18 113.60,938.80 114.77,938.41 116.01,938.01 117.33,937.62 118.70,937.21 120.13,936.81 121.58,936.40 123.06,935.98 124.55,935.56 126.04,935.13 127.52,934.70 128.98,934.25 130.40,933.80 131.80,933.33 133.20,932.84 134.60,932.33 136.00,931.80 137.41,931.27 138.81,930.74 140.21,930.22 141.61,929.70 143.01,929.19 144.41,928.70 145.80,928.24 147.20,927.80 148.59,927.39 149.99,927.01 151.38,926.64 152.77,926.29 154.16,925.95 155.55,925.62 156.94,925.31 158.33,924.99 159.72,924.67 161.11,924.36 162.51,924.03 163.90,923.70 165.30,923.36 166.69,923.03 168.09,922.70 169.49,922.37 170.89,922.05 172.29,921.72 173.69,921.39 175.10,921.06 176.50,920.73 177.90,920.39 179.30,920.05 180.70,919.70 182.12,919.34 183.58,918.98 185.06,918.60 186.55,918.22 188.04,917.84 189.52,917.46 190.97,917.08 192.40,916.70 193.77,916.33 195.09,915.97 196.33,915.63 197.50,915.30 198.58,914.99 199.57,914.71 200.50,914.45 201.36,914.21 202.18,913.97 202.97,913.73 203.73,913.49 204.48,913.24 205.23,912.97 205.99,912.68 206.78,912.36 207.60,912.00 208.43,911.60 209.25,911.17 210.05,910.71 210.84,910.23 211.64,909.73 212.44,909.22 213.26,908.70 214.09,908.19 214.94,907.69 215.83,907.20 216.74,906.74 217.70,906.30 218.69,905.88 219.70,905.46 220.74,905.05 221.80,904.64 222.88,904.24 223.98,903.85 225.11,903.48 226.26,903.12 227.43,902.78 228.63,902.46 229.85,902.17 231.10,901.90 232.41,901.66 233.80,901.45 235.26,901.26 236.76,901.10 238.28,900.95 239.81,900.82 241.32,900.70 242.80,900.59 244.21,900.49 245.55,900.39 246.78,900.30 247.90,900.20 248.92,900.10 249.86,899.99 250.75,899.89 251.57,899.79 252.33,899.70 253.04,899.62 253.70,899.55 254.31,899.50 254.87,899.46 255.38,899.45 255.86,899.46 256.30,899.50 256.66,899.58 256.91,899.72 257.08,899.90 257.18,900.11 257.23,900.34 257.26,900.58 257.28,900.81 257.31,901.03 257.38,901.22 257.50,901.37 257.70,901.46 258.00,901.50 258.36,901.47 258.73,901.40 259.13,901.28 259.55,901.13 260.01,900.95 260.51,900.75 261.06,900.54 261.66,900.31 262.32,900.09 263.04,899.88 263.83,899.68 264.70,899.50 265.71,899.33 266.91,899.14 268.24,898.95 269.67,898.76 271.16,898.57 272.67,898.38 274.15,898.19 275.57,898.02 276.89,897.86 278.06,897.72 279.04,897.60 279.80,897.50" fill="none" stroke="#5B9BD5" stroke-width="2.6" stroke-linecap="round" stroke-linejoin="round"/>
<polyline points="85.00,976.50 85.16,976.06 85.35,975.52 85.57,974.89 85.82,974.18 86.09,973.40 86.39,972.58 86.70,971.72 87.02,970.84 87.36,969.96 87.70,969.08 88.05,968.22 88.40,967.40 88.76,966.59 89.12,965.75 89.50,964.91 89.89,964.04 90.28,963.18 90.69,962.31 91.12,961.44 91.55,960.58 91.99,959.73 92.45,958.90 92.92,958.09 93.40,957.30 93.88,956.54 94.34,955.79 94.80,955.06 95.26,954.35 95.73,953.64 96.22,952.95 96.74,952.26 97.30,951.59 97.91,950.91 98.57,950.24 99.30,949.57 100.10,948.90 100.98,948.23 101.92,947.55 102.92,946.88 103.97,946.21 105.08,945.54 106.22,944.88 107.40,944.23 108.60,943.59 109.83,942.97 111.08,942.36 112.34,941.77 113.60,941.20 114.88,940.65 116.21,940.13 117.57,939.62 118.96,939.13 120.37,938.65 121.79,938.19 123.23,937.73 124.68,937.28 126.12,936.84 127.56,936.39 128.99,935.95 130.40,935.50 131.79,935.05 133.16,934.61 134.52,934.18 135.88,933.75 137.23,933.33 138.59,932.91 139.97,932.49 141.36,932.07 142.77,931.65 144.21,931.24 145.68,930.82 147.20,930.40 148.75,929.98 150.32,929.57 151.91,929.16 153.53,928.75 155.17,928.35 156.83,927.94 158.52,927.53 160.23,927.11 161.96,926.70 163.72,926.27 165.50,925.84 167.30,925.40 169.14,924.95 171.02,924.49 172.94,924.03 174.88,923.56 176.85,923.09 178.84,922.61 180.84,922.13 182.84,921.65 184.85,921.16 186.84,920.68 188.83,920.19 190.80,919.70 192.76,919.21 194.72,918.71 196.68,918.20 198.63,917.69 200.59,917.18 202.55,916.66 204.51,916.15 206.47,915.64 208.43,915.14 210.38,914.65 212.34,914.17 214.30,913.70 216.26,913.24 218.22,912.80 220.18,912.36 222.13,911.93 224.09,911.51 226.05,911.09 228.01,910.67 229.97,910.26 231.93,909.85 233.88,909.43 235.84,909.02 237.80,908.60 239.74,908.19 241.64,907.79 243.53,907.40 245.40,907.01 247.27,906.63 249.15,906.24 251.05,905.85 252.99,905.44 254.98,905.02 257.01,904.57 259.12,904.10 261.30,903.60 263.66,903.04 266.26,902.42 269.03,901.75 271.90,901.04 274.82,900.31 277.72,899.59 280.54,898.88 283.21,898.21 285.68,897.59 287.87,897.03 289.73,896.57 291.20,896.20" fill="none" stroke="#C00000" stroke-width="2.6" stroke-dasharray="6.479,10.798" stroke-linecap="round" stroke-linejoin="round"/>
<line x1="104.50" y1="878.60" x2="146.00" y2="878.60" stroke="#5B9BD5" stroke-width="2.5" stroke-linecap="butt"/>
<line x1="105.80" y1="894.00" x2="112.00" y2="894.00" stroke="#C00000" stroke-width="2.6" stroke-linecap="round"/>
<line x1="121.70" y1="894.00" x2="129.40" y2="894.00" stroke="#C00000" stroke-width="2.6" stroke-linecap="round"/>
<line x1="139.10" y1="894.00" x2="144.70" y2="894.00" stroke="#C00000" stroke-width="2.6" stroke-linecap="round"/>
<text x="150.46" y="883.90" font-family="Liberation Serif" font-size="14.36" font-weight="bold" fill="#000" textLength="81.58" lengthAdjust="spacingAndGlyphs">Experimental</text>
<text x="150.57" y="898.70" font-family="Liberation Serif" font-size="14.05" font-weight="bold" fill="#000" textLength="45.02" lengthAdjust="spacingAndGlyphs">ANSYS</text>
<text x="177.05" y="962.20" font-family="Liberation Serif" font-size="14.05" font-weight="bold" fill="#000" textLength="86.96" lengthAdjust="spacingAndGlyphs">Deflction(mm)</text>
<text x="46.47" y="874.79" font-family="Liberation Sans" font-size="13.95" font-weight="bold" fill="#000" textLength="24.23" lengthAdjust="spacingAndGlyphs">300</text>
<text x="46.29" y="910.31" font-family="Liberation Sans" font-size="13.98" font-weight="bold" fill="#000" textLength="24.41" lengthAdjust="spacingAndGlyphs">200</text>
<text x="45.86" y="945.61" font-family="Liberation Sans" font-size="13.98" font-weight="bold" fill="#000" textLength="24.85" lengthAdjust="spacingAndGlyphs">100</text>
<text x="61.54" y="981.21" font-family="Liberation Sans" font-size="13.98" font-weight="bold" fill="#000" textLength="9.24" lengthAdjust="spacingAndGlyphs">0</text>
<text x="80.27" y="1002.06" font-family="Liberation Sans" font-size="14.12" font-weight="bold" fill="#000" textLength="8.89" lengthAdjust="spacingAndGlyphs">0</text>
<text x="161.94" y="1002.06" font-family="Liberation Sans" font-size="14.12" font-weight="bold" fill="#000" textLength="16.42" lengthAdjust="spacingAndGlyphs">20</text>
<text x="246.73" y="1002.06" font-family="Liberation Sans" font-size="14.12" font-weight="bold" fill="#000" textLength="16.11" lengthAdjust="spacingAndGlyphs">40</text>
<text x="330.91" y="1002.06" font-family="Liberation Sans" font-size="14.12" font-weight="bold" fill="#000" textLength="16.45" lengthAdjust="spacingAndGlyphs">60</text>
<text transform="translate(24.99,952.54) rotate(-90)" x="0" y="0" font-family="Liberation Serif" font-size="14.12" font-weight="bold" fill="#000" textLength="59.15" lengthAdjust="spacingAndGlyphs">Load(Kn)</text>
<text x="137.38" y="1038.50" font-family="Liberation Serif" font-size="18.17" font-weight="normal" fill="#000" textLength="123.15" lengthAdjust="spacingAndGlyphs"><tspan font-weight="bold">(k)</tspan><tspan font-weight="normal"> Beam BRH5</tspan></text>
<line x1="488.60" y1="877.00" x2="488.60" y2="976.50" stroke="#d9d9d9" stroke-width="1" stroke-dasharray="4.7,3.2" stroke-linecap="butt"/>
<line x1="550.20" y1="877.00" x2="550.20" y2="976.50" stroke="#d9d9d9" stroke-width="1" stroke-dasharray="4.7,3.2" stroke-linecap="butt"/>
<line x1="611.70" y1="877.00" x2="611.70" y2="976.50" stroke="#d9d9d9" stroke-width="1" stroke-dasharray="4.7,3.2" stroke-linecap="butt"/>
<line x1="673.30" y1="877.00" x2="673.30" y2="976.50" stroke="#d9d9d9" stroke-width="1" stroke-dasharray="4.7,3.2" stroke-linecap="butt"/>
<line x1="427.00" y1="910.30" x2="673.30" y2="910.30" stroke="#d9d9d9" stroke-width="1" stroke-dasharray="4.7,3.2" stroke-linecap="butt"/>
<line x1="427.00" y1="943.60" x2="673.30" y2="943.60" stroke="#d9d9d9" stroke-width="1" stroke-dasharray="4.7,3.2" stroke-linecap="butt"/>
<line x1="427.00" y1="877.00" x2="673.30" y2="877.00" stroke="#d9d9d9" stroke-width="1" stroke-dasharray="4.7,3.2" stroke-linecap="butt"/>
<line x1="427.00" y1="877.00" x2="427.00" y2="976.50" stroke="#1a1a1a" stroke-width="1.3" stroke-linecap="butt"/>
<line x1="426.40" y1="976.50" x2="673.30" y2="976.50" stroke="#1a1a1a" stroke-width="1.3" stroke-linecap="butt"/>
<line x1="427.00" y1="877.00" x2="427.00" y2="976.50" stroke="#595959" stroke-width="1.4" stroke-linecap="butt"/>
<rect x="442" y="875" width="160.6" height="27.8" fill="none" stroke="#222" stroke-width="1.5"/>
<polyline points="427.00,976.50 427.20,966.00 427.28,965.61 427.38,965.12 427.50,964.54 427.62,963.89 427.76,963.18 427.91,962.44 428.07,961.67 428.24,960.89 428.42,960.12 428.61,959.37 428.80,958.66 429.00,958.00 429.20,957.38 429.40,956.77 429.61,956.17 429.82,955.57 430.04,954.99 430.27,954.41 430.51,953.83 430.77,953.26 431.05,952.69 431.34,952.13 431.66,951.56 432.00,951.00 432.36,950.44 432.74,949.88 433.13,949.32 433.54,948.77 433.96,948.22 434.41,947.67 434.87,947.13 435.35,946.59 435.86,946.06 436.38,945.53 436.93,945.01 437.50,944.50 438.10,944.00 438.72,943.50 439.36,943.01 440.03,942.53 440.71,942.06 441.42,941.59 442.14,941.12 442.89,940.66 443.64,940.19 444.42,939.73 445.20,939.27 446.00,938.80 446.82,938.33 447.66,937.86 448.53,937.38 449.41,936.91 450.32,936.43 451.23,935.96 452.16,935.50 453.09,935.04 454.02,934.59 454.95,934.14 455.88,933.72 456.80,933.30 457.72,932.90 458.64,932.50 459.56,932.11 460.49,931.73 461.42,931.36 462.35,931.00 463.28,930.65 464.22,930.30 465.16,929.96 466.11,929.63 467.05,929.31 468.00,929.00 468.97,928.70 469.96,928.40 470.97,928.11 471.99,927.83 473.01,927.55 474.02,927.29 475.03,927.03 476.01,926.79 476.97,926.55 477.89,926.32 478.77,926.11 479.60,925.90 480.34,925.73 480.99,925.60 481.57,925.51 482.09,925.43 482.58,925.37 483.08,925.31 483.58,925.23 484.13,925.12 484.75,924.98 485.45,924.79 486.26,924.53 487.20,924.20 488.28,923.80 489.47,923.33 490.76,922.81 492.12,922.25 493.55,921.65 495.03,921.02 496.54,920.36 498.07,919.69 499.59,919.01 501.10,918.33 502.57,917.66 504.00,917.00 505.39,916.34 506.79,915.65 508.18,914.94 509.57,914.23 510.96,913.50 512.35,912.77 513.74,912.04 515.13,911.32 516.52,910.61 517.91,909.92 519.31,909.24 520.70,908.60 522.10,907.97 523.49,907.35 524.89,906.73 526.29,906.12 527.69,905.52 529.09,904.94 530.49,904.37 531.90,903.83 533.30,903.30 534.70,902.81 536.10,902.34 537.50,901.90 538.90,901.50 540.30,901.13 541.70,900.79 543.10,900.48 544.50,900.19 545.90,899.92 547.30,899.67 548.70,899.43 550.10,899.20 551.50,898.96 552.90,898.73 554.30,898.50 555.70,898.27 557.10,898.05 558.50,897.83 559.90,897.63 561.30,897.43 562.70,897.24 564.10,897.06 565.50,896.88 566.90,896.71 568.30,896.54 569.70,896.37 571.10,896.20 572.48,896.03 573.83,895.86 575.16,895.69 576.48,895.53 577.80,895.36 579.12,895.21 580.47,895.06 581.86,894.92 583.28,894.79 584.75,894.68 586.29,894.58 587.90,894.50 589.66,894.44 591.62,894.40 593.71,894.38 595.90,894.37 598.13,894.38 600.35,894.39 602.51,894.41 604.57,894.44 606.46,894.46 608.15,894.48 609.58,894.49 610.70,894.50" fill="none" stroke="#5B9BD5" stroke-width="2.6" stroke-linecap="round" stroke-linejoin="round"/>
<polyline points="427.00,976.50 427.06,976.05 427.12,975.48 427.19,974.83 427.27,974.09 427.36,973.29 427.46,972.44 427.57,971.55 427.70,970.63 427.84,969.70 428.01,968.78 428.19,967.87 428.40,967.00 428.63,966.13 428.88,965.24 429.15,964.33 429.43,963.40 429.74,962.46 430.06,961.51 430.39,960.57 430.74,959.63 431.11,958.69 431.49,957.78 431.89,956.88 432.30,956.00 432.72,955.14 433.16,954.27 433.61,953.41 434.07,952.56 434.55,951.71 435.04,950.88 435.56,950.06 436.09,949.26 436.63,948.48 437.20,947.72 437.79,947.00 438.40,946.30 439.04,945.64 439.70,945.01 440.39,944.42 441.10,943.85 441.83,943.30 442.58,942.77 443.34,942.26 444.11,941.75 444.88,941.24 445.66,940.74 446.43,940.22 447.20,939.70 447.97,939.17 448.74,938.63 449.52,938.09 450.31,937.55 451.10,937.02 451.89,936.49 452.70,935.97 453.50,935.46 454.32,934.97 455.14,934.49 455.97,934.03 456.80,933.60 457.64,933.19 458.49,932.80 459.35,932.43 460.22,932.07 461.09,931.73 461.97,931.41 462.85,931.09 463.74,930.78 464.63,930.48 465.52,930.18 466.41,929.89 467.30,929.60 468.20,929.31 469.12,929.03 470.04,928.76 470.97,928.50 471.91,928.24 472.84,927.99 473.77,927.74 474.69,927.50 475.60,927.27 476.49,927.04 477.36,926.82 478.20,926.60 478.98,926.40 479.68,926.23 480.32,926.08 480.93,925.94 481.52,925.80 482.12,925.67 482.76,925.52 483.45,925.36 484.21,925.18 485.08,924.96 486.07,924.70 487.20,924.40 488.48,924.05 489.87,923.66 491.36,923.23 492.95,922.77 494.62,922.29 496.34,921.79 498.12,921.28 499.94,920.76 501.78,920.24 503.62,919.71 505.47,919.20 507.30,918.70 509.14,918.20 511.02,917.69 512.94,917.18 514.88,916.66 516.85,916.13 518.84,915.61 520.84,915.08 522.84,914.57 524.85,914.06 526.84,913.56 528.83,913.07 530.80,912.60 532.78,912.14 534.79,911.69 536.83,911.25 538.88,910.81 540.93,910.39 542.97,909.97 544.98,909.56 546.96,909.15 548.90,908.75 550.77,908.36 552.58,907.98 554.30,907.60 555.94,907.23 557.51,906.86 559.02,906.50 560.47,906.14 561.87,905.80 563.24,905.46 564.57,905.12 565.89,904.80 567.19,904.49 568.49,904.18 569.79,903.88 571.10,903.60 572.46,903.32 573.87,903.04 575.31,902.77 576.76,902.50 578.20,902.25 579.60,902.00 580.94,901.77 582.21,901.55 583.37,901.35 584.40,901.18 585.29,901.03 586.00,900.90" fill="none" stroke="#ED7D31" stroke-width="3.3" stroke-dasharray="7.895,14.661" stroke-linecap="round" stroke-linejoin="round"/>
<line x1="456.90" y1="881.70" x2="497.60" y2="881.70" stroke="#5B9BD5" stroke-width="2.5" stroke-linecap="butt"/>
<line x1="457.70" y1="895.30" x2="465.70" y2="895.30" stroke="#ED7D31" stroke-width="3.2" stroke-linecap="round"/>
<line x1="480.10" y1="895.30" x2="489.30" y2="895.30" stroke="#ED7D31" stroke-width="3.2" stroke-linecap="round"/>
<text x="502.26" y="886.90" font-family="Liberation Serif" font-size="14.51" font-weight="bold" fill="#000" textLength="82.48" lengthAdjust="spacingAndGlyphs">Experimental</text>
<text x="502.36" y="900.30" font-family="Liberation Serif" font-size="14.05" font-weight="bold" fill="#000" textLength="46.95" lengthAdjust="spacingAndGlyphs">ANSYS</text>
<text x="542.05" y="967.20" font-family="Liberation Serif" font-size="14.05" font-weight="bold" fill="#000" textLength="86.96" lengthAdjust="spacingAndGlyphs">Deflction(mm)</text>
<text x="388.06" y="881.80" font-family="Liberation Sans" font-size="13.39" font-weight="bold" fill="#000" textLength="24.64" lengthAdjust="spacingAndGlyphs">300</text>
<text x="387.88" y="914.92" font-family="Liberation Sans" font-size="13.42" font-weight="bold" fill="#000" textLength="24.83" lengthAdjust="spacingAndGlyphs">200</text>
<text x="387.45" y="948.22" font-family="Liberation Sans" font-size="13.42" font-weight="bold" fill="#000" textLength="25.28" lengthAdjust="spacingAndGlyphs">100</text>
<text x="404.08" y="981.22" font-family="Liberation Sans" font-size="13.42" font-weight="bold" fill="#000" textLength="8.65" lengthAdjust="spacingAndGlyphs">0</text>
<text x="422.92" y="1002.06" font-family="Liberation Sans" font-size="14.69" font-weight="bold" fill="#000" textLength="8.19" lengthAdjust="spacingAndGlyphs">0</text>
<text x="480.58" y="1002.06" font-family="Liberation Sans" font-size="14.69" font-weight="bold" fill="#000" textLength="16.52" lengthAdjust="spacingAndGlyphs">20</text>
<text x="542.28" y="1002.06" font-family="Liberation Sans" font-size="14.69" font-weight="bold" fill="#000" textLength="16.22" lengthAdjust="spacingAndGlyphs">40</text>
<text x="603.45" y="1002.06" font-family="Liberation Sans" font-size="14.69" font-weight="bold" fill="#000" textLength="16.56" lengthAdjust="spacingAndGlyphs">60</text>
<text x="666.03" y="1002.06" font-family="Liberation Sans" font-size="14.69" font-weight="bold" fill="#000" textLength="16.48" lengthAdjust="spacingAndGlyphs">80</text>
<text transform="translate(386.19,955.74) rotate(-90)" x="0" y="0" font-family="Liberation Serif" font-size="14.12" font-weight="bold" fill="#000" textLength="59.56" lengthAdjust="spacingAndGlyphs">Load(Kn)</text>
<text x="476.96" y="1038.50" font-family="Liberation Serif" font-size="18.17" font-weight="normal" fill="#000" textLength="121.31" lengthAdjust="spacingAndGlyphs"><tspan font-weight="bold">(l)</tspan><tspan font-weight="normal"> Beam BRH6</tspan></text>
</svg>
</body></html>
